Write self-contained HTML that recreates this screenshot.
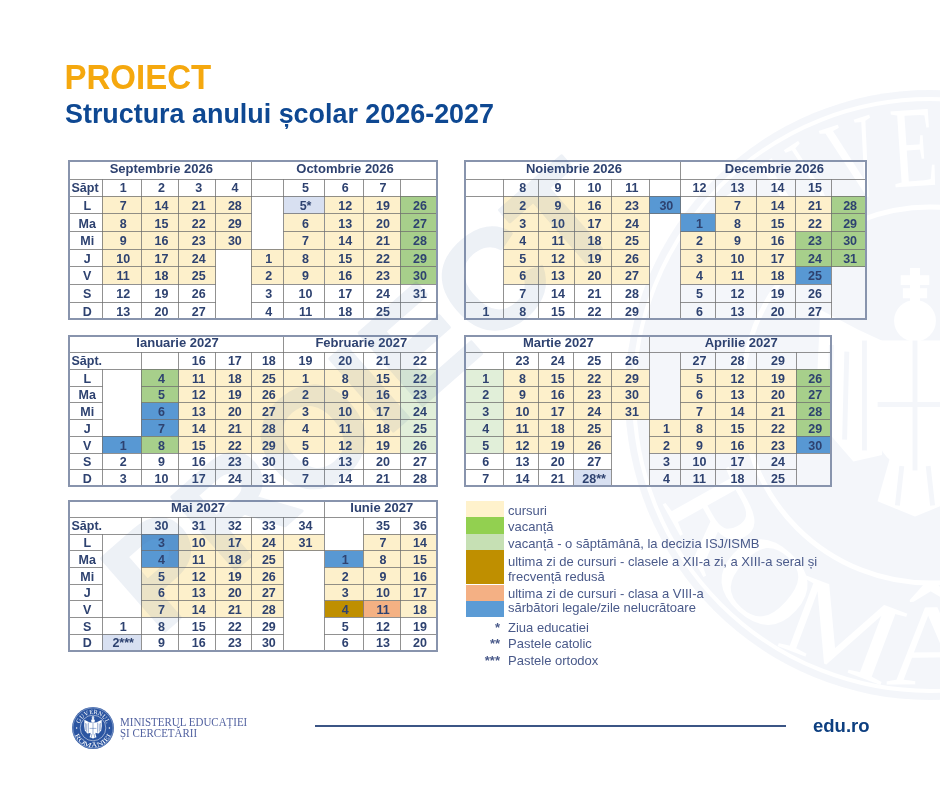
<!DOCTYPE html>
<html lang="ro"><head><meta charset="utf-8"><title>Structura anului școlar 2026-2027</title>
<style>
*{margin:0;padding:0;box-sizing:border-box}
html,body{width:940px;height:788px;overflow:hidden;background:#fff}
body{position:relative;font-family:"Liberation Sans",sans-serif}
.tb{position:absolute}
.tb i,.tb b{position:absolute;display:block}
.bd{border:1px solid rgba(110,110,110,.5)}
.tb b{font-weight:bold;color:#2e4270;text-align:center;white-space:nowrap;font-size:12.5px;padding-left:3px;height:14px;line-height:14px}
.tb b.h{font-size:13px;padding-left:2px;height:15px;line-height:15px}
.tb b.l{text-align:left;padding-left:2px}
.ob{left:-1.5px;top:-1px;right:-1px;bottom:-1px;border:2px solid #8894ad}
#title{position:absolute;left:64.5px;top:58px;font-weight:bold;font-size:33px;color:#f5a80e;line-height:40px;white-space:nowrap;transform:scaleY(1.04);transform-origin:0 28px}
#sub{position:absolute;left:65px;top:96.5px;font-weight:bold;font-size:26.9px;color:#0e4892;line-height:34px;white-space:nowrap}
.sw{position:absolute;left:466px;width:38px;display:block}
.lt{position:absolute;left:508px;font-size:13px;color:#4a5a8a;white-space:nowrap;line-height:15px;height:15px}
.ast{position:absolute;left:470px;width:30px;text-align:right;font-size:13px;font-weight:bold;color:#4a5a8a;line-height:15px;height:15px}
#line{position:absolute;left:315px;top:725px;width:471px;height:1.6px;background:#3b5585}
#edu{position:absolute;left:813px;top:713.5px;font-weight:bold;font-size:18.5px;color:#0d3f80;line-height:24px}
#min{position:absolute;left:120.3px;top:716.7px;font-family:"Liberation Serif",serif;font-size:11.8px;line-height:11.2px;color:#5262a0;transform:scaleX(0.93);transform-origin:0 0;white-space:nowrap}
#wm{position:absolute;left:0;top:0;pointer-events:none}
body>*{filter:blur(0.3px)}
#logo{position:absolute;left:70.7px;top:706.1px;width:44px;height:44px}
#seal{position:absolute;left:0;top:0}
</style></head><body>
<svg id="seal" width="940" height="788" viewBox="0 0 940 788"><g opacity="0.05" transform="translate(930 395)"><circle r="305" fill="#2b55a1"/><circle r="296" fill="none" stroke="#fff" stroke-width="4"/><circle r="188" fill="none" stroke="#fff" stroke-width="5"/><path id="slt" d="M-206.0,-3.6 A206,206 0 0 1 206.0,-3.6" fill="none" transform="rotate(2)"/><path id="slb" d="M-284.0,5.0 A284,284 0 0 0 284.0,5.0" fill="none" transform="rotate(3)"/><text font-family="Liberation Serif" font-size="116" fill="#fff"><textPath href="#slt" startOffset="50%" text-anchor="middle" textLength="415" lengthAdjust="spacingAndGlyphs">GUVERNUL</textPath></text><text font-family="Liberation Serif" font-size="116" fill="#fff"><textPath href="#slb" startOffset="50%" text-anchor="middle" textLength="660" lengthAdjust="spacingAndGlyphs">ROMÂNIEI</textPath></text><g transform="translate(-15 5) scale(11)"><path fill="#fff" d="M-2.6,-5.2 L-5.2,-6.4 L-8.6,-8.2 L-8.9,-2 L-8.2,2.6 L-5.6,5.6 L-3,5 Z M2.6,-5.2 L5.2,-6.4 L8.6,-8.2 L8.9,-2 L8.2,2.6 L5.6,5.6 L3,5 Z"/><path fill="#fff" d="M-3.4,-5.4 L3.4,-5.4 L3.4,3 Q3.4,5.6 0,6.6 Q-3.4,5.6 -3.4,3 Z"/><path fill="#fff" d="M-2.2,5 L2.2,5 L3.4,9.2 L0,10.6 L-3.4,9.2 Z"/><circle cx="0" cy="-7.2" r="1.9" fill="#fff"/><path stroke="#fff" stroke-width="0.9" d="M0,-12 L0,-8.6 M-1.3,-10.9 L1.3,-10.9 M-1.1,-9.7 L1.1,-9.7"/><path stroke="#2b55a1" stroke-width="0.45" fill="none" d="M0,-5.4 L0,6.4 M-3.4,0.4 L3.4,0.4 M-7.6,-5 L-7.8,2 M-6.2,-4.4 L-6.4,3.6 M-4.6,-5.4 L-4.6,4.6 M7.6,-5 L7.8,2 M6.2,-4.4 L6.4,3.6 M4.6,-5.4 L4.6,4.6 M-1.2,6 L-1.6,9.6 M1.2,6 L1.6,9.6"/></g></g></svg>
<div id="title">PROIECT</div>
<div id="sub">Structura anului școlar 2026-2027</div>
<div class="tb" style="left:69.5px;top:161.3px;width:367.5px;height:158.2px">
<i class="bg" style="left:32.5px;top:35.1px;width:39.4px;height:17.6px;background:#fdf0cb"></i>
<i class="bg" style="left:71.9px;top:35.1px;width:37.2px;height:17.6px;background:#fdf0cb"></i>
<i class="bg" style="left:109.1px;top:35.1px;width:37.1px;height:17.6px;background:#fdf0cb"></i>
<i class="bg" style="left:146.2px;top:35.1px;width:35.4px;height:17.6px;background:#fdf0cb"></i>
<i class="bg" style="left:214.1px;top:35.1px;width:40.9px;height:17.6px;background:#d8e0f1"></i>
<i class="bg" style="left:255.0px;top:35.1px;width:38.5px;height:17.6px;background:#fdf0cb"></i>
<i class="bg" style="left:293.5px;top:35.1px;width:37.0px;height:17.6px;background:#fdf0cb"></i>
<i class="bg" style="left:330.5px;top:35.1px;width:37.0px;height:17.6px;background:#a7cf8b"></i>
<i class="bg" style="left:32.5px;top:52.7px;width:39.4px;height:17.7px;background:#fdf0cb"></i>
<i class="bg" style="left:71.9px;top:52.7px;width:37.2px;height:17.7px;background:#fdf0cb"></i>
<i class="bg" style="left:109.1px;top:52.7px;width:37.1px;height:17.7px;background:#fdf0cb"></i>
<i class="bg" style="left:146.2px;top:52.7px;width:35.4px;height:17.7px;background:#fdf0cb"></i>
<i class="bg" style="left:214.1px;top:52.7px;width:40.9px;height:17.7px;background:#fdf0cb"></i>
<i class="bg" style="left:255.0px;top:52.7px;width:38.5px;height:17.7px;background:#fdf0cb"></i>
<i class="bg" style="left:293.5px;top:52.7px;width:37.0px;height:17.7px;background:#fdf0cb"></i>
<i class="bg" style="left:330.5px;top:52.7px;width:37.0px;height:17.7px;background:#a7cf8b"></i>
<i class="bg" style="left:32.5px;top:70.4px;width:39.4px;height:17.6px;background:#fdf0cb"></i>
<i class="bg" style="left:71.9px;top:70.4px;width:37.2px;height:17.6px;background:#fdf0cb"></i>
<i class="bg" style="left:109.1px;top:70.4px;width:37.1px;height:17.6px;background:#fdf0cb"></i>
<i class="bg" style="left:146.2px;top:70.4px;width:35.4px;height:17.6px;background:#fdf0cb"></i>
<i class="bg" style="left:214.1px;top:70.4px;width:40.9px;height:17.6px;background:#fdf0cb"></i>
<i class="bg" style="left:255.0px;top:70.4px;width:38.5px;height:17.6px;background:#fdf0cb"></i>
<i class="bg" style="left:293.5px;top:70.4px;width:37.0px;height:17.6px;background:#fdf0cb"></i>
<i class="bg" style="left:330.5px;top:70.4px;width:37.0px;height:17.6px;background:#a7cf8b"></i>
<i class="bg" style="left:32.5px;top:88.0px;width:39.4px;height:17.5px;background:#fdf0cb"></i>
<i class="bg" style="left:71.9px;top:88.0px;width:37.2px;height:17.5px;background:#fdf0cb"></i>
<i class="bg" style="left:109.1px;top:88.0px;width:37.1px;height:17.5px;background:#fdf0cb"></i>
<i class="bg" style="left:181.6px;top:88.0px;width:32.5px;height:17.5px;background:#fdf0cb"></i>
<i class="bg" style="left:214.1px;top:88.0px;width:40.9px;height:17.5px;background:#fdf0cb"></i>
<i class="bg" style="left:255.0px;top:88.0px;width:38.5px;height:17.5px;background:#fdf0cb"></i>
<i class="bg" style="left:293.5px;top:88.0px;width:37.0px;height:17.5px;background:#fdf0cb"></i>
<i class="bg" style="left:330.5px;top:88.0px;width:37.0px;height:17.5px;background:#a7cf8b"></i>
<i class="bg" style="left:32.5px;top:105.5px;width:39.4px;height:17.6px;background:#fdf0cb"></i>
<i class="bg" style="left:71.9px;top:105.5px;width:37.2px;height:17.6px;background:#fdf0cb"></i>
<i class="bg" style="left:109.1px;top:105.5px;width:37.1px;height:17.6px;background:#fdf0cb"></i>
<i class="bg" style="left:181.6px;top:105.5px;width:32.5px;height:17.6px;background:#fdf0cb"></i>
<i class="bg" style="left:214.1px;top:105.5px;width:40.9px;height:17.6px;background:#fdf0cb"></i>
<i class="bg" style="left:255.0px;top:105.5px;width:38.5px;height:17.6px;background:#fdf0cb"></i>
<i class="bg" style="left:293.5px;top:105.5px;width:37.0px;height:17.6px;background:#fdf0cb"></i>
<i class="bg" style="left:330.5px;top:105.5px;width:37.0px;height:17.6px;background:#a7cf8b"></i>
<i class="bd" style="left:-0.5px;top:-0.5px;width:182.6px;height:19.1px"></i>
<i class="bd" style="left:181.1px;top:-0.5px;width:186.9px;height:19.1px"></i>
<i class="bd" style="left:-0.5px;top:17.6px;width:33.5px;height:18.0px"></i>
<i class="bd" style="left:32.0px;top:17.6px;width:40.4px;height:18.0px"></i>
<i class="bd" style="left:71.4px;top:17.6px;width:38.2px;height:18.0px"></i>
<i class="bd" style="left:108.6px;top:17.6px;width:38.1px;height:18.0px"></i>
<i class="bd" style="left:145.7px;top:17.6px;width:36.4px;height:18.0px"></i>
<i class="bd" style="left:181.1px;top:17.6px;width:33.5px;height:18.0px"></i>
<i class="bd" style="left:213.6px;top:17.6px;width:41.9px;height:18.0px"></i>
<i class="bd" style="left:254.5px;top:17.6px;width:39.5px;height:18.0px"></i>
<i class="bd" style="left:293.0px;top:17.6px;width:38.0px;height:18.0px"></i>
<i class="bd" style="left:330.0px;top:17.6px;width:38.0px;height:18.0px"></i>
<i class="bd" style="left:-0.5px;top:34.6px;width:33.5px;height:18.6px"></i>
<i class="bd" style="left:32.0px;top:34.6px;width:40.4px;height:18.6px"></i>
<i class="bd" style="left:71.4px;top:34.6px;width:38.2px;height:18.6px"></i>
<i class="bd" style="left:108.6px;top:34.6px;width:38.1px;height:18.6px"></i>
<i class="bd" style="left:145.7px;top:34.6px;width:36.4px;height:18.6px"></i>
<i class="bd" style="left:181.1px;top:34.6px;width:33.5px;height:53.9px"></i>
<i class="bd" style="left:213.6px;top:34.6px;width:41.9px;height:18.6px"></i>
<i class="bd" style="left:254.5px;top:34.6px;width:39.5px;height:18.6px"></i>
<i class="bd" style="left:293.0px;top:34.6px;width:38.0px;height:18.6px"></i>
<i class="bd" style="left:330.0px;top:34.6px;width:38.0px;height:18.6px"></i>
<i class="bd" style="left:-0.5px;top:52.2px;width:33.5px;height:18.7px"></i>
<i class="bd" style="left:32.0px;top:52.2px;width:40.4px;height:18.7px"></i>
<i class="bd" style="left:71.4px;top:52.2px;width:38.2px;height:18.7px"></i>
<i class="bd" style="left:108.6px;top:52.2px;width:38.1px;height:18.7px"></i>
<i class="bd" style="left:145.7px;top:52.2px;width:36.4px;height:18.7px"></i>
<i class="bd" style="left:213.6px;top:52.2px;width:41.9px;height:18.7px"></i>
<i class="bd" style="left:254.5px;top:52.2px;width:39.5px;height:18.7px"></i>
<i class="bd" style="left:293.0px;top:52.2px;width:38.0px;height:18.7px"></i>
<i class="bd" style="left:330.0px;top:52.2px;width:38.0px;height:18.7px"></i>
<i class="bd" style="left:-0.5px;top:69.9px;width:33.5px;height:18.6px"></i>
<i class="bd" style="left:32.0px;top:69.9px;width:40.4px;height:18.6px"></i>
<i class="bd" style="left:71.4px;top:69.9px;width:38.2px;height:18.6px"></i>
<i class="bd" style="left:108.6px;top:69.9px;width:38.1px;height:18.6px"></i>
<i class="bd" style="left:145.7px;top:69.9px;width:36.4px;height:18.6px"></i>
<i class="bd" style="left:213.6px;top:69.9px;width:41.9px;height:18.6px"></i>
<i class="bd" style="left:254.5px;top:69.9px;width:39.5px;height:18.6px"></i>
<i class="bd" style="left:293.0px;top:69.9px;width:38.0px;height:18.6px"></i>
<i class="bd" style="left:330.0px;top:69.9px;width:38.0px;height:18.6px"></i>
<i class="bd" style="left:-0.5px;top:87.5px;width:33.5px;height:18.5px"></i>
<i class="bd" style="left:32.0px;top:87.5px;width:40.4px;height:18.5px"></i>
<i class="bd" style="left:71.4px;top:87.5px;width:38.2px;height:18.5px"></i>
<i class="bd" style="left:108.6px;top:87.5px;width:38.1px;height:18.5px"></i>
<i class="bd" style="left:145.7px;top:87.5px;width:36.4px;height:71.2px"></i>
<i class="bd" style="left:181.1px;top:87.5px;width:33.5px;height:18.5px"></i>
<i class="bd" style="left:213.6px;top:87.5px;width:41.9px;height:18.5px"></i>
<i class="bd" style="left:254.5px;top:87.5px;width:39.5px;height:18.5px"></i>
<i class="bd" style="left:293.0px;top:87.5px;width:38.0px;height:18.5px"></i>
<i class="bd" style="left:330.0px;top:87.5px;width:38.0px;height:18.5px"></i>
<i class="bd" style="left:-0.5px;top:105.0px;width:33.5px;height:18.6px"></i>
<i class="bd" style="left:32.0px;top:105.0px;width:40.4px;height:18.6px"></i>
<i class="bd" style="left:71.4px;top:105.0px;width:38.2px;height:18.6px"></i>
<i class="bd" style="left:108.6px;top:105.0px;width:38.1px;height:18.6px"></i>
<i class="bd" style="left:181.1px;top:105.0px;width:33.5px;height:18.6px"></i>
<i class="bd" style="left:213.6px;top:105.0px;width:41.9px;height:18.6px"></i>
<i class="bd" style="left:254.5px;top:105.0px;width:39.5px;height:18.6px"></i>
<i class="bd" style="left:293.0px;top:105.0px;width:38.0px;height:18.6px"></i>
<i class="bd" style="left:330.0px;top:105.0px;width:38.0px;height:18.6px"></i>
<i class="bd" style="left:-0.5px;top:122.6px;width:33.5px;height:18.7px"></i>
<i class="bd" style="left:32.0px;top:122.6px;width:40.4px;height:18.7px"></i>
<i class="bd" style="left:71.4px;top:122.6px;width:38.2px;height:18.7px"></i>
<i class="bd" style="left:108.6px;top:122.6px;width:38.1px;height:18.7px"></i>
<i class="bd" style="left:181.1px;top:122.6px;width:33.5px;height:18.7px"></i>
<i class="bd" style="left:213.6px;top:122.6px;width:41.9px;height:18.7px"></i>
<i class="bd" style="left:254.5px;top:122.6px;width:39.5px;height:18.7px"></i>
<i class="bd" style="left:293.0px;top:122.6px;width:38.0px;height:18.7px"></i>
<i class="bd" style="left:330.0px;top:122.6px;width:38.0px;height:18.7px"></i>
<i class="bd" style="left:-0.5px;top:140.3px;width:33.5px;height:18.4px"></i>
<i class="bd" style="left:32.0px;top:140.3px;width:40.4px;height:18.4px"></i>
<i class="bd" style="left:71.4px;top:140.3px;width:38.2px;height:18.4px"></i>
<i class="bd" style="left:108.6px;top:140.3px;width:38.1px;height:18.4px"></i>
<i class="bd" style="left:181.1px;top:140.3px;width:33.5px;height:18.4px"></i>
<i class="bd" style="left:213.6px;top:140.3px;width:41.9px;height:18.4px"></i>
<i class="bd" style="left:254.5px;top:140.3px;width:39.5px;height:18.4px"></i>
<i class="bd" style="left:293.0px;top:140.3px;width:38.0px;height:18.4px"></i>
<i class="bd" style="left:330.0px;top:140.3px;width:38.0px;height:18.4px"></i>
<b class="h" style="left:0.0px;top:-0.3px;width:181.6px">Septembrie 2026</b>
<b class="h" style="left:181.6px;top:-0.3px;width:185.9px">Octombrie 2026</b>
<b class="t l" style="left:0.0px;top:19.7px;width:32.5px">Săpt</b>
<b class="t" style="left:32.5px;top:19.7px;width:39.4px">1</b>
<b class="t" style="left:71.9px;top:19.7px;width:37.2px">2</b>
<b class="t" style="left:109.1px;top:19.7px;width:37.1px">3</b>
<b class="t" style="left:146.2px;top:19.7px;width:35.4px">4</b>
<b class="t" style="left:214.1px;top:19.7px;width:40.9px">5</b>
<b class="t" style="left:255.0px;top:19.7px;width:38.5px">6</b>
<b class="t" style="left:293.5px;top:19.7px;width:37.0px">7</b>
<b class="t" style="left:0.0px;top:37.7px;width:32.5px">L</b>
<b class="t" style="left:32.5px;top:37.7px;width:39.4px">7</b>
<b class="t" style="left:71.9px;top:37.7px;width:37.2px">14</b>
<b class="t" style="left:109.1px;top:37.7px;width:37.1px">21</b>
<b class="t" style="left:146.2px;top:37.7px;width:35.4px">28</b>
<b class="t" style="left:214.1px;top:37.7px;width:40.9px">5*</b>
<b class="t" style="left:255.0px;top:37.7px;width:38.5px">12</b>
<b class="t" style="left:293.5px;top:37.7px;width:37.0px">19</b>
<b class="t" style="left:330.5px;top:37.7px;width:37.0px">26</b>
<b class="t" style="left:0.0px;top:55.7px;width:32.5px">Ma</b>
<b class="t" style="left:32.5px;top:55.7px;width:39.4px">8</b>
<b class="t" style="left:71.9px;top:55.7px;width:37.2px">15</b>
<b class="t" style="left:109.1px;top:55.7px;width:37.1px">22</b>
<b class="t" style="left:146.2px;top:55.7px;width:35.4px">29</b>
<b class="t" style="left:214.1px;top:55.7px;width:40.9px">6</b>
<b class="t" style="left:255.0px;top:55.7px;width:38.5px">13</b>
<b class="t" style="left:293.5px;top:55.7px;width:37.0px">20</b>
<b class="t" style="left:330.5px;top:55.7px;width:37.0px">27</b>
<b class="t" style="left:0.0px;top:72.7px;width:32.5px">Mi</b>
<b class="t" style="left:32.5px;top:72.7px;width:39.4px">9</b>
<b class="t" style="left:71.9px;top:72.7px;width:37.2px">16</b>
<b class="t" style="left:109.1px;top:72.7px;width:37.1px">23</b>
<b class="t" style="left:146.2px;top:72.7px;width:35.4px">30</b>
<b class="t" style="left:214.1px;top:72.7px;width:40.9px">7</b>
<b class="t" style="left:255.0px;top:72.7px;width:38.5px">14</b>
<b class="t" style="left:293.5px;top:72.7px;width:37.0px">21</b>
<b class="t" style="left:330.5px;top:72.7px;width:37.0px">28</b>
<b class="t" style="left:0.0px;top:90.7px;width:32.5px">J</b>
<b class="t" style="left:32.5px;top:90.7px;width:39.4px">10</b>
<b class="t" style="left:71.9px;top:90.7px;width:37.2px">17</b>
<b class="t" style="left:109.1px;top:90.7px;width:37.1px">24</b>
<b class="t" style="left:181.6px;top:90.7px;width:32.5px">1</b>
<b class="t" style="left:214.1px;top:90.7px;width:40.9px">8</b>
<b class="t" style="left:255.0px;top:90.7px;width:38.5px">15</b>
<b class="t" style="left:293.5px;top:90.7px;width:37.0px">22</b>
<b class="t" style="left:330.5px;top:90.7px;width:37.0px">29</b>
<b class="t" style="left:0.0px;top:107.7px;width:32.5px">V</b>
<b class="t" style="left:32.5px;top:107.7px;width:39.4px">11</b>
<b class="t" style="left:71.9px;top:107.7px;width:37.2px">18</b>
<b class="t" style="left:109.1px;top:107.7px;width:37.1px">25</b>
<b class="t" style="left:181.6px;top:107.7px;width:32.5px">2</b>
<b class="t" style="left:214.1px;top:107.7px;width:40.9px">9</b>
<b class="t" style="left:255.0px;top:107.7px;width:38.5px">16</b>
<b class="t" style="left:293.5px;top:107.7px;width:37.0px">23</b>
<b class="t" style="left:330.5px;top:107.7px;width:37.0px">30</b>
<b class="t" style="left:0.0px;top:125.7px;width:32.5px">S</b>
<b class="t" style="left:32.5px;top:125.7px;width:39.4px">12</b>
<b class="t" style="left:71.9px;top:125.7px;width:37.2px">19</b>
<b class="t" style="left:109.1px;top:125.7px;width:37.1px">26</b>
<b class="t" style="left:181.6px;top:125.7px;width:32.5px">3</b>
<b class="t" style="left:214.1px;top:125.7px;width:40.9px">10</b>
<b class="t" style="left:255.0px;top:125.7px;width:38.5px">17</b>
<b class="t" style="left:293.5px;top:125.7px;width:37.0px">24</b>
<b class="t" style="left:330.5px;top:125.7px;width:37.0px">31</b>
<b class="t" style="left:0.0px;top:143.7px;width:32.5px">D</b>
<b class="t" style="left:32.5px;top:143.7px;width:39.4px">13</b>
<b class="t" style="left:71.9px;top:143.7px;width:37.2px">20</b>
<b class="t" style="left:109.1px;top:143.7px;width:37.1px">27</b>
<b class="t" style="left:181.6px;top:143.7px;width:32.5px">4</b>
<b class="t" style="left:214.1px;top:143.7px;width:40.9px">11</b>
<b class="t" style="left:255.0px;top:143.7px;width:38.5px">18</b>
<b class="t" style="left:293.5px;top:143.7px;width:37.0px">25</b>
<i class="ob"></i></div>
<div class="tb" style="left:465.4px;top:161.3px;width:400.8px;height:158.2px">
<i class="bg" style="left:38.2px;top:35.1px;width:35.1px;height:17.6px;background:#fdf0cb"></i>
<i class="bg" style="left:73.3px;top:35.1px;width:35.6px;height:17.6px;background:#fdf0cb"></i>
<i class="bg" style="left:108.9px;top:35.1px;width:37.4px;height:17.6px;background:#fdf0cb"></i>
<i class="bg" style="left:146.3px;top:35.1px;width:37.5px;height:17.6px;background:#fdf0cb"></i>
<i class="bg" style="left:183.8px;top:35.1px;width:31.4px;height:17.6px;background:#5898d3"></i>
<i class="bg" style="left:250.1px;top:35.1px;width:41.0px;height:17.6px;background:#fdf0cb"></i>
<i class="bg" style="left:291.1px;top:35.1px;width:39.3px;height:17.6px;background:#fdf0cb"></i>
<i class="bg" style="left:330.4px;top:35.1px;width:35.3px;height:17.6px;background:#fdf0cb"></i>
<i class="bg" style="left:365.7px;top:35.1px;width:35.1px;height:17.6px;background:#a7cf8b"></i>
<i class="bg" style="left:38.2px;top:52.7px;width:35.1px;height:17.7px;background:#fdf0cb"></i>
<i class="bg" style="left:73.3px;top:52.7px;width:35.6px;height:17.7px;background:#fdf0cb"></i>
<i class="bg" style="left:108.9px;top:52.7px;width:37.4px;height:17.7px;background:#fdf0cb"></i>
<i class="bg" style="left:146.3px;top:52.7px;width:37.5px;height:17.7px;background:#fdf0cb"></i>
<i class="bg" style="left:215.2px;top:52.7px;width:34.9px;height:17.7px;background:#5898d3"></i>
<i class="bg" style="left:250.1px;top:52.7px;width:41.0px;height:17.7px;background:#fdf0cb"></i>
<i class="bg" style="left:291.1px;top:52.7px;width:39.3px;height:17.7px;background:#fdf0cb"></i>
<i class="bg" style="left:330.4px;top:52.7px;width:35.3px;height:17.7px;background:#fdf0cb"></i>
<i class="bg" style="left:365.7px;top:52.7px;width:35.1px;height:17.7px;background:#a7cf8b"></i>
<i class="bg" style="left:38.2px;top:70.4px;width:35.1px;height:17.6px;background:#fdf0cb"></i>
<i class="bg" style="left:73.3px;top:70.4px;width:35.6px;height:17.6px;background:#fdf0cb"></i>
<i class="bg" style="left:108.9px;top:70.4px;width:37.4px;height:17.6px;background:#fdf0cb"></i>
<i class="bg" style="left:146.3px;top:70.4px;width:37.5px;height:17.6px;background:#fdf0cb"></i>
<i class="bg" style="left:215.2px;top:70.4px;width:34.9px;height:17.6px;background:#fdf0cb"></i>
<i class="bg" style="left:250.1px;top:70.4px;width:41.0px;height:17.6px;background:#fdf0cb"></i>
<i class="bg" style="left:291.1px;top:70.4px;width:39.3px;height:17.6px;background:#fdf0cb"></i>
<i class="bg" style="left:330.4px;top:70.4px;width:35.3px;height:17.6px;background:#a7cf8b"></i>
<i class="bg" style="left:365.7px;top:70.4px;width:35.1px;height:17.6px;background:#a7cf8b"></i>
<i class="bg" style="left:38.2px;top:88.0px;width:35.1px;height:17.5px;background:#fdf0cb"></i>
<i class="bg" style="left:73.3px;top:88.0px;width:35.6px;height:17.5px;background:#fdf0cb"></i>
<i class="bg" style="left:108.9px;top:88.0px;width:37.4px;height:17.5px;background:#fdf0cb"></i>
<i class="bg" style="left:146.3px;top:88.0px;width:37.5px;height:17.5px;background:#fdf0cb"></i>
<i class="bg" style="left:215.2px;top:88.0px;width:34.9px;height:17.5px;background:#fdf0cb"></i>
<i class="bg" style="left:250.1px;top:88.0px;width:41.0px;height:17.5px;background:#fdf0cb"></i>
<i class="bg" style="left:291.1px;top:88.0px;width:39.3px;height:17.5px;background:#fdf0cb"></i>
<i class="bg" style="left:330.4px;top:88.0px;width:35.3px;height:17.5px;background:#a7cf8b"></i>
<i class="bg" style="left:365.7px;top:88.0px;width:35.1px;height:17.5px;background:#a7cf8b"></i>
<i class="bg" style="left:38.2px;top:105.5px;width:35.1px;height:17.6px;background:#fdf0cb"></i>
<i class="bg" style="left:73.3px;top:105.5px;width:35.6px;height:17.6px;background:#fdf0cb"></i>
<i class="bg" style="left:108.9px;top:105.5px;width:37.4px;height:17.6px;background:#fdf0cb"></i>
<i class="bg" style="left:146.3px;top:105.5px;width:37.5px;height:17.6px;background:#fdf0cb"></i>
<i class="bg" style="left:215.2px;top:105.5px;width:34.9px;height:17.6px;background:#fdf0cb"></i>
<i class="bg" style="left:250.1px;top:105.5px;width:41.0px;height:17.6px;background:#fdf0cb"></i>
<i class="bg" style="left:291.1px;top:105.5px;width:39.3px;height:17.6px;background:#fdf0cb"></i>
<i class="bg" style="left:330.4px;top:105.5px;width:35.3px;height:17.6px;background:#5898d3"></i>
<i class="bd" style="left:-0.5px;top:-0.5px;width:216.2px;height:19.1px"></i>
<i class="bd" style="left:214.7px;top:-0.5px;width:186.6px;height:19.1px"></i>
<i class="bd" style="left:-0.5px;top:17.6px;width:39.2px;height:18.0px"></i>
<i class="bd" style="left:37.7px;top:17.6px;width:36.1px;height:18.0px"></i>
<i class="bd" style="left:72.8px;top:17.6px;width:36.6px;height:18.0px"></i>
<i class="bd" style="left:108.4px;top:17.6px;width:38.4px;height:18.0px"></i>
<i class="bd" style="left:145.8px;top:17.6px;width:38.5px;height:18.0px"></i>
<i class="bd" style="left:183.3px;top:17.6px;width:32.4px;height:18.0px"></i>
<i class="bd" style="left:214.7px;top:17.6px;width:35.9px;height:18.0px"></i>
<i class="bd" style="left:249.6px;top:17.6px;width:42.0px;height:18.0px"></i>
<i class="bd" style="left:290.6px;top:17.6px;width:40.3px;height:18.0px"></i>
<i class="bd" style="left:329.9px;top:17.6px;width:36.3px;height:18.0px"></i>
<i class="bd" style="left:365.2px;top:17.6px;width:36.1px;height:18.0px"></i>
<i class="bd" style="left:-0.5px;top:34.6px;width:39.2px;height:106.7px"></i>
<i class="bd" style="left:37.7px;top:34.6px;width:36.1px;height:18.6px"></i>
<i class="bd" style="left:72.8px;top:34.6px;width:36.6px;height:18.6px"></i>
<i class="bd" style="left:108.4px;top:34.6px;width:38.4px;height:18.6px"></i>
<i class="bd" style="left:145.8px;top:34.6px;width:38.5px;height:18.6px"></i>
<i class="bd" style="left:183.3px;top:34.6px;width:32.4px;height:18.6px"></i>
<i class="bd" style="left:214.7px;top:34.6px;width:35.9px;height:18.6px"></i>
<i class="bd" style="left:249.6px;top:34.6px;width:42.0px;height:18.6px"></i>
<i class="bd" style="left:290.6px;top:34.6px;width:40.3px;height:18.6px"></i>
<i class="bd" style="left:329.9px;top:34.6px;width:36.3px;height:18.6px"></i>
<i class="bd" style="left:365.2px;top:34.6px;width:36.1px;height:18.6px"></i>
<i class="bd" style="left:37.7px;top:52.2px;width:36.1px;height:18.7px"></i>
<i class="bd" style="left:72.8px;top:52.2px;width:36.6px;height:18.7px"></i>
<i class="bd" style="left:108.4px;top:52.2px;width:38.4px;height:18.7px"></i>
<i class="bd" style="left:145.8px;top:52.2px;width:38.5px;height:18.7px"></i>
<i class="bd" style="left:183.3px;top:52.2px;width:32.4px;height:106.5px"></i>
<i class="bd" style="left:214.7px;top:52.2px;width:35.9px;height:18.7px"></i>
<i class="bd" style="left:249.6px;top:52.2px;width:42.0px;height:18.7px"></i>
<i class="bd" style="left:290.6px;top:52.2px;width:40.3px;height:18.7px"></i>
<i class="bd" style="left:329.9px;top:52.2px;width:36.3px;height:18.7px"></i>
<i class="bd" style="left:365.2px;top:52.2px;width:36.1px;height:18.7px"></i>
<i class="bd" style="left:37.7px;top:69.9px;width:36.1px;height:18.6px"></i>
<i class="bd" style="left:72.8px;top:69.9px;width:36.6px;height:18.6px"></i>
<i class="bd" style="left:108.4px;top:69.9px;width:38.4px;height:18.6px"></i>
<i class="bd" style="left:145.8px;top:69.9px;width:38.5px;height:18.6px"></i>
<i class="bd" style="left:214.7px;top:69.9px;width:35.9px;height:18.6px"></i>
<i class="bd" style="left:249.6px;top:69.9px;width:42.0px;height:18.6px"></i>
<i class="bd" style="left:290.6px;top:69.9px;width:40.3px;height:18.6px"></i>
<i class="bd" style="left:329.9px;top:69.9px;width:36.3px;height:18.6px"></i>
<i class="bd" style="left:365.2px;top:69.9px;width:36.1px;height:18.6px"></i>
<i class="bd" style="left:37.7px;top:87.5px;width:36.1px;height:18.5px"></i>
<i class="bd" style="left:72.8px;top:87.5px;width:36.6px;height:18.5px"></i>
<i class="bd" style="left:108.4px;top:87.5px;width:38.4px;height:18.5px"></i>
<i class="bd" style="left:145.8px;top:87.5px;width:38.5px;height:18.5px"></i>
<i class="bd" style="left:214.7px;top:87.5px;width:35.9px;height:18.5px"></i>
<i class="bd" style="left:249.6px;top:87.5px;width:42.0px;height:18.5px"></i>
<i class="bd" style="left:290.6px;top:87.5px;width:40.3px;height:18.5px"></i>
<i class="bd" style="left:329.9px;top:87.5px;width:36.3px;height:18.5px"></i>
<i class="bd" style="left:365.2px;top:87.5px;width:36.1px;height:18.5px"></i>
<i class="bd" style="left:37.7px;top:105.0px;width:36.1px;height:18.6px"></i>
<i class="bd" style="left:72.8px;top:105.0px;width:36.6px;height:18.6px"></i>
<i class="bd" style="left:108.4px;top:105.0px;width:38.4px;height:18.6px"></i>
<i class="bd" style="left:145.8px;top:105.0px;width:38.5px;height:18.6px"></i>
<i class="bd" style="left:214.7px;top:105.0px;width:35.9px;height:18.6px"></i>
<i class="bd" style="left:249.6px;top:105.0px;width:42.0px;height:18.6px"></i>
<i class="bd" style="left:290.6px;top:105.0px;width:40.3px;height:18.6px"></i>
<i class="bd" style="left:329.9px;top:105.0px;width:36.3px;height:18.6px"></i>
<i class="bd" style="left:365.2px;top:105.0px;width:36.1px;height:53.7px"></i>
<i class="bd" style="left:37.7px;top:122.6px;width:36.1px;height:18.7px"></i>
<i class="bd" style="left:72.8px;top:122.6px;width:36.6px;height:18.7px"></i>
<i class="bd" style="left:108.4px;top:122.6px;width:38.4px;height:18.7px"></i>
<i class="bd" style="left:145.8px;top:122.6px;width:38.5px;height:18.7px"></i>
<i class="bd" style="left:214.7px;top:122.6px;width:35.9px;height:18.7px"></i>
<i class="bd" style="left:249.6px;top:122.6px;width:42.0px;height:18.7px"></i>
<i class="bd" style="left:290.6px;top:122.6px;width:40.3px;height:18.7px"></i>
<i class="bd" style="left:329.9px;top:122.6px;width:36.3px;height:18.7px"></i>
<i class="bd" style="left:-0.5px;top:140.3px;width:39.2px;height:18.4px"></i>
<i class="bd" style="left:37.7px;top:140.3px;width:36.1px;height:18.4px"></i>
<i class="bd" style="left:72.8px;top:140.3px;width:36.6px;height:18.4px"></i>
<i class="bd" style="left:108.4px;top:140.3px;width:38.4px;height:18.4px"></i>
<i class="bd" style="left:145.8px;top:140.3px;width:38.5px;height:18.4px"></i>
<i class="bd" style="left:214.7px;top:140.3px;width:35.9px;height:18.4px"></i>
<i class="bd" style="left:249.6px;top:140.3px;width:42.0px;height:18.4px"></i>
<i class="bd" style="left:290.6px;top:140.3px;width:40.3px;height:18.4px"></i>
<i class="bd" style="left:329.9px;top:140.3px;width:36.3px;height:18.4px"></i>
<b class="h" style="left:0.0px;top:-0.3px;width:215.2px">Noiembrie 2026</b>
<b class="h" style="left:215.2px;top:-0.3px;width:185.6px">Decembrie 2026</b>
<b class="t" style="left:38.2px;top:19.7px;width:35.1px">8</b>
<b class="t" style="left:73.3px;top:19.7px;width:35.6px">9</b>
<b class="t" style="left:108.9px;top:19.7px;width:37.4px">10</b>
<b class="t" style="left:146.3px;top:19.7px;width:37.5px">11</b>
<b class="t" style="left:215.2px;top:19.7px;width:34.9px">12</b>
<b class="t" style="left:250.1px;top:19.7px;width:41.0px">13</b>
<b class="t" style="left:291.1px;top:19.7px;width:39.3px">14</b>
<b class="t" style="left:330.4px;top:19.7px;width:35.3px">15</b>
<b class="t" style="left:38.2px;top:37.7px;width:35.1px">2</b>
<b class="t" style="left:73.3px;top:37.7px;width:35.6px">9</b>
<b class="t" style="left:108.9px;top:37.7px;width:37.4px">16</b>
<b class="t" style="left:146.3px;top:37.7px;width:37.5px">23</b>
<b class="t" style="left:183.8px;top:37.7px;width:31.4px">30</b>
<b class="t" style="left:250.1px;top:37.7px;width:41.0px">7</b>
<b class="t" style="left:291.1px;top:37.7px;width:39.3px">14</b>
<b class="t" style="left:330.4px;top:37.7px;width:35.3px">21</b>
<b class="t" style="left:365.7px;top:37.7px;width:35.1px">28</b>
<b class="t" style="left:38.2px;top:55.7px;width:35.1px">3</b>
<b class="t" style="left:73.3px;top:55.7px;width:35.6px">10</b>
<b class="t" style="left:108.9px;top:55.7px;width:37.4px">17</b>
<b class="t" style="left:146.3px;top:55.7px;width:37.5px">24</b>
<b class="t" style="left:215.2px;top:55.7px;width:34.9px">1</b>
<b class="t" style="left:250.1px;top:55.7px;width:41.0px">8</b>
<b class="t" style="left:291.1px;top:55.7px;width:39.3px">15</b>
<b class="t" style="left:330.4px;top:55.7px;width:35.3px">22</b>
<b class="t" style="left:365.7px;top:55.7px;width:35.1px">29</b>
<b class="t" style="left:38.2px;top:72.7px;width:35.1px">4</b>
<b class="t" style="left:73.3px;top:72.7px;width:35.6px">11</b>
<b class="t" style="left:108.9px;top:72.7px;width:37.4px">18</b>
<b class="t" style="left:146.3px;top:72.7px;width:37.5px">25</b>
<b class="t" style="left:215.2px;top:72.7px;width:34.9px">2</b>
<b class="t" style="left:250.1px;top:72.7px;width:41.0px">9</b>
<b class="t" style="left:291.1px;top:72.7px;width:39.3px">16</b>
<b class="t" style="left:330.4px;top:72.7px;width:35.3px">23</b>
<b class="t" style="left:365.7px;top:72.7px;width:35.1px">30</b>
<b class="t" style="left:38.2px;top:90.7px;width:35.1px">5</b>
<b class="t" style="left:73.3px;top:90.7px;width:35.6px">12</b>
<b class="t" style="left:108.9px;top:90.7px;width:37.4px">19</b>
<b class="t" style="left:146.3px;top:90.7px;width:37.5px">26</b>
<b class="t" style="left:215.2px;top:90.7px;width:34.9px">3</b>
<b class="t" style="left:250.1px;top:90.7px;width:41.0px">10</b>
<b class="t" style="left:291.1px;top:90.7px;width:39.3px">17</b>
<b class="t" style="left:330.4px;top:90.7px;width:35.3px">24</b>
<b class="t" style="left:365.7px;top:90.7px;width:35.1px">31</b>
<b class="t" style="left:38.2px;top:107.7px;width:35.1px">6</b>
<b class="t" style="left:73.3px;top:107.7px;width:35.6px">13</b>
<b class="t" style="left:108.9px;top:107.7px;width:37.4px">20</b>
<b class="t" style="left:146.3px;top:107.7px;width:37.5px">27</b>
<b class="t" style="left:215.2px;top:107.7px;width:34.9px">4</b>
<b class="t" style="left:250.1px;top:107.7px;width:41.0px">11</b>
<b class="t" style="left:291.1px;top:107.7px;width:39.3px">18</b>
<b class="t" style="left:330.4px;top:107.7px;width:35.3px">25</b>
<b class="t" style="left:38.2px;top:125.7px;width:35.1px">7</b>
<b class="t" style="left:73.3px;top:125.7px;width:35.6px">14</b>
<b class="t" style="left:108.9px;top:125.7px;width:37.4px">21</b>
<b class="t" style="left:146.3px;top:125.7px;width:37.5px">28</b>
<b class="t" style="left:215.2px;top:125.7px;width:34.9px">5</b>
<b class="t" style="left:250.1px;top:125.7px;width:41.0px">12</b>
<b class="t" style="left:291.1px;top:125.7px;width:39.3px">19</b>
<b class="t" style="left:330.4px;top:125.7px;width:35.3px">26</b>
<b class="t" style="left:0.0px;top:143.7px;width:38.2px">1</b>
<b class="t" style="left:38.2px;top:143.7px;width:35.1px">8</b>
<b class="t" style="left:73.3px;top:143.7px;width:35.6px">15</b>
<b class="t" style="left:108.9px;top:143.7px;width:37.4px">22</b>
<b class="t" style="left:146.3px;top:143.7px;width:37.5px">29</b>
<b class="t" style="left:215.2px;top:143.7px;width:34.9px">6</b>
<b class="t" style="left:250.1px;top:143.7px;width:41.0px">13</b>
<b class="t" style="left:291.1px;top:143.7px;width:39.3px">20</b>
<b class="t" style="left:330.4px;top:143.7px;width:35.3px">27</b>
<i class="ob"></i></div>
<div class="tb" style="left:69.5px;top:336.4px;width:367.5px;height:149.8px">
<i class="bg" style="left:71.9px;top:33.0px;width:37.2px;height:16.7px;background:#a7cf8b"></i>
<i class="bg" style="left:109.1px;top:33.0px;width:37.1px;height:16.7px;background:#fdf0cb"></i>
<i class="bg" style="left:146.2px;top:33.0px;width:35.4px;height:16.7px;background:#fdf0cb"></i>
<i class="bg" style="left:181.6px;top:33.0px;width:32.5px;height:16.7px;background:#fdf0cb"></i>
<i class="bg" style="left:214.1px;top:33.0px;width:40.9px;height:16.7px;background:#fdf0cb"></i>
<i class="bg" style="left:255.0px;top:33.0px;width:38.5px;height:16.7px;background:#fdf0cb"></i>
<i class="bg" style="left:293.5px;top:33.0px;width:37.0px;height:16.7px;background:#fdf0cb"></i>
<i class="bg" style="left:330.5px;top:33.0px;width:37.0px;height:16.7px;background:#e1efd9"></i>
<i class="bg" style="left:71.9px;top:49.7px;width:37.2px;height:16.8px;background:#a7cf8b"></i>
<i class="bg" style="left:109.1px;top:49.7px;width:37.1px;height:16.8px;background:#fdf0cb"></i>
<i class="bg" style="left:146.2px;top:49.7px;width:35.4px;height:16.8px;background:#fdf0cb"></i>
<i class="bg" style="left:181.6px;top:49.7px;width:32.5px;height:16.8px;background:#fdf0cb"></i>
<i class="bg" style="left:214.1px;top:49.7px;width:40.9px;height:16.8px;background:#fdf0cb"></i>
<i class="bg" style="left:255.0px;top:49.7px;width:38.5px;height:16.8px;background:#fdf0cb"></i>
<i class="bg" style="left:293.5px;top:49.7px;width:37.0px;height:16.8px;background:#fdf0cb"></i>
<i class="bg" style="left:330.5px;top:49.7px;width:37.0px;height:16.8px;background:#e1efd9"></i>
<i class="bg" style="left:71.9px;top:66.5px;width:37.2px;height:16.7px;background:#5898d3"></i>
<i class="bg" style="left:109.1px;top:66.5px;width:37.1px;height:16.7px;background:#fdf0cb"></i>
<i class="bg" style="left:146.2px;top:66.5px;width:35.4px;height:16.7px;background:#fdf0cb"></i>
<i class="bg" style="left:181.6px;top:66.5px;width:32.5px;height:16.7px;background:#fdf0cb"></i>
<i class="bg" style="left:214.1px;top:66.5px;width:40.9px;height:16.7px;background:#fdf0cb"></i>
<i class="bg" style="left:255.0px;top:66.5px;width:38.5px;height:16.7px;background:#fdf0cb"></i>
<i class="bg" style="left:293.5px;top:66.5px;width:37.0px;height:16.7px;background:#fdf0cb"></i>
<i class="bg" style="left:330.5px;top:66.5px;width:37.0px;height:16.7px;background:#e1efd9"></i>
<i class="bg" style="left:71.9px;top:83.2px;width:37.2px;height:16.8px;background:#5898d3"></i>
<i class="bg" style="left:109.1px;top:83.2px;width:37.1px;height:16.8px;background:#fdf0cb"></i>
<i class="bg" style="left:146.2px;top:83.2px;width:35.4px;height:16.8px;background:#fdf0cb"></i>
<i class="bg" style="left:181.6px;top:83.2px;width:32.5px;height:16.8px;background:#fdf0cb"></i>
<i class="bg" style="left:214.1px;top:83.2px;width:40.9px;height:16.8px;background:#fdf0cb"></i>
<i class="bg" style="left:255.0px;top:83.2px;width:38.5px;height:16.8px;background:#fdf0cb"></i>
<i class="bg" style="left:293.5px;top:83.2px;width:37.0px;height:16.8px;background:#fdf0cb"></i>
<i class="bg" style="left:330.5px;top:83.2px;width:37.0px;height:16.8px;background:#e1efd9"></i>
<i class="bg" style="left:32.5px;top:100.0px;width:39.4px;height:16.7px;background:#5898d3"></i>
<i class="bg" style="left:71.9px;top:100.0px;width:37.2px;height:16.7px;background:#a7cf8b"></i>
<i class="bg" style="left:109.1px;top:100.0px;width:37.1px;height:16.7px;background:#fdf0cb"></i>
<i class="bg" style="left:146.2px;top:100.0px;width:35.4px;height:16.7px;background:#fdf0cb"></i>
<i class="bg" style="left:181.6px;top:100.0px;width:32.5px;height:16.7px;background:#fdf0cb"></i>
<i class="bg" style="left:214.1px;top:100.0px;width:40.9px;height:16.7px;background:#fdf0cb"></i>
<i class="bg" style="left:255.0px;top:100.0px;width:38.5px;height:16.7px;background:#fdf0cb"></i>
<i class="bg" style="left:293.5px;top:100.0px;width:37.0px;height:16.7px;background:#fdf0cb"></i>
<i class="bg" style="left:330.5px;top:100.0px;width:37.0px;height:16.7px;background:#e1efd9"></i>
<i class="bd" style="left:-0.5px;top:-0.5px;width:215.1px;height:17.2px"></i>
<i class="bd" style="left:213.6px;top:-0.5px;width:154.4px;height:17.2px"></i>
<i class="bd" style="left:-0.5px;top:15.7px;width:72.9px;height:17.8px"></i>
<i class="bd" style="left:71.4px;top:15.7px;width:38.2px;height:17.8px"></i>
<i class="bd" style="left:108.6px;top:15.7px;width:38.1px;height:17.8px"></i>
<i class="bd" style="left:145.7px;top:15.7px;width:36.4px;height:17.8px"></i>
<i class="bd" style="left:181.1px;top:15.7px;width:33.5px;height:17.8px"></i>
<i class="bd" style="left:213.6px;top:15.7px;width:41.9px;height:17.8px"></i>
<i class="bd" style="left:254.5px;top:15.7px;width:39.5px;height:17.8px"></i>
<i class="bd" style="left:293.0px;top:15.7px;width:38.0px;height:17.8px"></i>
<i class="bd" style="left:330.0px;top:15.7px;width:38.0px;height:17.8px"></i>
<i class="bd" style="left:-0.5px;top:32.5px;width:33.5px;height:17.7px"></i>
<i class="bd" style="left:32.0px;top:32.5px;width:40.4px;height:68.0px"></i>
<i class="bd" style="left:71.4px;top:32.5px;width:38.2px;height:17.7px"></i>
<i class="bd" style="left:108.6px;top:32.5px;width:38.1px;height:17.7px"></i>
<i class="bd" style="left:145.7px;top:32.5px;width:36.4px;height:17.7px"></i>
<i class="bd" style="left:181.1px;top:32.5px;width:33.5px;height:17.7px"></i>
<i class="bd" style="left:213.6px;top:32.5px;width:41.9px;height:17.7px"></i>
<i class="bd" style="left:254.5px;top:32.5px;width:39.5px;height:17.7px"></i>
<i class="bd" style="left:293.0px;top:32.5px;width:38.0px;height:17.7px"></i>
<i class="bd" style="left:330.0px;top:32.5px;width:38.0px;height:17.7px"></i>
<i class="bd" style="left:-0.5px;top:49.2px;width:33.5px;height:17.8px"></i>
<i class="bd" style="left:71.4px;top:49.2px;width:38.2px;height:17.8px"></i>
<i class="bd" style="left:108.6px;top:49.2px;width:38.1px;height:17.8px"></i>
<i class="bd" style="left:145.7px;top:49.2px;width:36.4px;height:17.8px"></i>
<i class="bd" style="left:181.1px;top:49.2px;width:33.5px;height:17.8px"></i>
<i class="bd" style="left:213.6px;top:49.2px;width:41.9px;height:17.8px"></i>
<i class="bd" style="left:254.5px;top:49.2px;width:39.5px;height:17.8px"></i>
<i class="bd" style="left:293.0px;top:49.2px;width:38.0px;height:17.8px"></i>
<i class="bd" style="left:330.0px;top:49.2px;width:38.0px;height:17.8px"></i>
<i class="bd" style="left:-0.5px;top:66.0px;width:33.5px;height:17.7px"></i>
<i class="bd" style="left:71.4px;top:66.0px;width:38.2px;height:17.7px"></i>
<i class="bd" style="left:108.6px;top:66.0px;width:38.1px;height:17.7px"></i>
<i class="bd" style="left:145.7px;top:66.0px;width:36.4px;height:17.7px"></i>
<i class="bd" style="left:181.1px;top:66.0px;width:33.5px;height:17.7px"></i>
<i class="bd" style="left:213.6px;top:66.0px;width:41.9px;height:17.7px"></i>
<i class="bd" style="left:254.5px;top:66.0px;width:39.5px;height:17.7px"></i>
<i class="bd" style="left:293.0px;top:66.0px;width:38.0px;height:17.7px"></i>
<i class="bd" style="left:330.0px;top:66.0px;width:38.0px;height:17.7px"></i>
<i class="bd" style="left:-0.5px;top:82.7px;width:33.5px;height:17.8px"></i>
<i class="bd" style="left:71.4px;top:82.7px;width:38.2px;height:17.8px"></i>
<i class="bd" style="left:108.6px;top:82.7px;width:38.1px;height:17.8px"></i>
<i class="bd" style="left:145.7px;top:82.7px;width:36.4px;height:17.8px"></i>
<i class="bd" style="left:181.1px;top:82.7px;width:33.5px;height:17.8px"></i>
<i class="bd" style="left:213.6px;top:82.7px;width:41.9px;height:17.8px"></i>
<i class="bd" style="left:254.5px;top:82.7px;width:39.5px;height:17.8px"></i>
<i class="bd" style="left:293.0px;top:82.7px;width:38.0px;height:17.8px"></i>
<i class="bd" style="left:330.0px;top:82.7px;width:38.0px;height:17.8px"></i>
<i class="bd" style="left:-0.5px;top:99.5px;width:33.5px;height:17.7px"></i>
<i class="bd" style="left:32.0px;top:99.5px;width:40.4px;height:17.7px"></i>
<i class="bd" style="left:71.4px;top:99.5px;width:38.2px;height:17.7px"></i>
<i class="bd" style="left:108.6px;top:99.5px;width:38.1px;height:17.7px"></i>
<i class="bd" style="left:145.7px;top:99.5px;width:36.4px;height:17.7px"></i>
<i class="bd" style="left:181.1px;top:99.5px;width:33.5px;height:17.7px"></i>
<i class="bd" style="left:213.6px;top:99.5px;width:41.9px;height:17.7px"></i>
<i class="bd" style="left:254.5px;top:99.5px;width:39.5px;height:17.7px"></i>
<i class="bd" style="left:293.0px;top:99.5px;width:38.0px;height:17.7px"></i>
<i class="bd" style="left:330.0px;top:99.5px;width:38.0px;height:17.7px"></i>
<i class="bd" style="left:-0.5px;top:116.2px;width:33.5px;height:17.8px"></i>
<i class="bd" style="left:32.0px;top:116.2px;width:40.4px;height:17.8px"></i>
<i class="bd" style="left:71.4px;top:116.2px;width:38.2px;height:17.8px"></i>
<i class="bd" style="left:108.6px;top:116.2px;width:38.1px;height:17.8px"></i>
<i class="bd" style="left:145.7px;top:116.2px;width:36.4px;height:17.8px"></i>
<i class="bd" style="left:181.1px;top:116.2px;width:33.5px;height:17.8px"></i>
<i class="bd" style="left:213.6px;top:116.2px;width:41.9px;height:17.8px"></i>
<i class="bd" style="left:254.5px;top:116.2px;width:39.5px;height:17.8px"></i>
<i class="bd" style="left:293.0px;top:116.2px;width:38.0px;height:17.8px"></i>
<i class="bd" style="left:330.0px;top:116.2px;width:38.0px;height:17.8px"></i>
<i class="bd" style="left:-0.5px;top:133.0px;width:33.5px;height:17.3px"></i>
<i class="bd" style="left:32.0px;top:133.0px;width:40.4px;height:17.3px"></i>
<i class="bd" style="left:71.4px;top:133.0px;width:38.2px;height:17.3px"></i>
<i class="bd" style="left:108.6px;top:133.0px;width:38.1px;height:17.3px"></i>
<i class="bd" style="left:145.7px;top:133.0px;width:36.4px;height:17.3px"></i>
<i class="bd" style="left:181.1px;top:133.0px;width:33.5px;height:17.3px"></i>
<i class="bd" style="left:213.6px;top:133.0px;width:41.9px;height:17.3px"></i>
<i class="bd" style="left:254.5px;top:133.0px;width:39.5px;height:17.3px"></i>
<i class="bd" style="left:293.0px;top:133.0px;width:38.0px;height:17.3px"></i>
<i class="bd" style="left:330.0px;top:133.0px;width:38.0px;height:17.3px"></i>
<b class="h" style="left:0.0px;top:-1.4px;width:214.1px">Ianuarie 2027</b>
<b class="h" style="left:214.1px;top:-1.4px;width:153.4px">Februarie 2027</b>
<b class="t l" style="left:0.0px;top:17.6px;width:71.9px">Săpt.</b>
<b class="t" style="left:109.1px;top:17.6px;width:37.1px">16</b>
<b class="t" style="left:146.2px;top:17.6px;width:35.4px">17</b>
<b class="t" style="left:181.6px;top:17.6px;width:32.5px">18</b>
<b class="t" style="left:214.1px;top:17.6px;width:40.9px">19</b>
<b class="t" style="left:255.0px;top:17.6px;width:38.5px">20</b>
<b class="t" style="left:293.5px;top:17.6px;width:37.0px">21</b>
<b class="t" style="left:330.5px;top:17.6px;width:37.0px">22</b>
<b class="t" style="left:0.0px;top:35.6px;width:32.5px">L</b>
<b class="t" style="left:71.9px;top:35.6px;width:37.2px">4</b>
<b class="t" style="left:109.1px;top:35.6px;width:37.1px">11</b>
<b class="t" style="left:146.2px;top:35.6px;width:35.4px">18</b>
<b class="t" style="left:181.6px;top:35.6px;width:32.5px">25</b>
<b class="t" style="left:214.1px;top:35.6px;width:40.9px">1</b>
<b class="t" style="left:255.0px;top:35.6px;width:38.5px">8</b>
<b class="t" style="left:293.5px;top:35.6px;width:37.0px">15</b>
<b class="t" style="left:330.5px;top:35.6px;width:37.0px">22</b>
<b class="t" style="left:0.0px;top:51.6px;width:32.5px">Ma</b>
<b class="t" style="left:71.9px;top:51.6px;width:37.2px">5</b>
<b class="t" style="left:109.1px;top:51.6px;width:37.1px">12</b>
<b class="t" style="left:146.2px;top:51.6px;width:35.4px">19</b>
<b class="t" style="left:181.6px;top:51.6px;width:32.5px">26</b>
<b class="t" style="left:214.1px;top:51.6px;width:40.9px">2</b>
<b class="t" style="left:255.0px;top:51.6px;width:38.5px">9</b>
<b class="t" style="left:293.5px;top:51.6px;width:37.0px">16</b>
<b class="t" style="left:330.5px;top:51.6px;width:37.0px">23</b>
<b class="t" style="left:0.0px;top:68.6px;width:32.5px">Mi</b>
<b class="t" style="left:71.9px;top:68.6px;width:37.2px">6</b>
<b class="t" style="left:109.1px;top:68.6px;width:37.1px">13</b>
<b class="t" style="left:146.2px;top:68.6px;width:35.4px">20</b>
<b class="t" style="left:181.6px;top:68.6px;width:32.5px">27</b>
<b class="t" style="left:214.1px;top:68.6px;width:40.9px">3</b>
<b class="t" style="left:255.0px;top:68.6px;width:38.5px">10</b>
<b class="t" style="left:293.5px;top:68.6px;width:37.0px">17</b>
<b class="t" style="left:330.5px;top:68.6px;width:37.0px">24</b>
<b class="t" style="left:0.0px;top:85.6px;width:32.5px">J</b>
<b class="t" style="left:71.9px;top:85.6px;width:37.2px">7</b>
<b class="t" style="left:109.1px;top:85.6px;width:37.1px">14</b>
<b class="t" style="left:146.2px;top:85.6px;width:35.4px">21</b>
<b class="t" style="left:181.6px;top:85.6px;width:32.5px">28</b>
<b class="t" style="left:214.1px;top:85.6px;width:40.9px">4</b>
<b class="t" style="left:255.0px;top:85.6px;width:38.5px">11</b>
<b class="t" style="left:293.5px;top:85.6px;width:37.0px">18</b>
<b class="t" style="left:330.5px;top:85.6px;width:37.0px">25</b>
<b class="t" style="left:0.0px;top:102.6px;width:32.5px">V</b>
<b class="t" style="left:32.5px;top:102.6px;width:39.4px">1</b>
<b class="t" style="left:71.9px;top:102.6px;width:37.2px">8</b>
<b class="t" style="left:109.1px;top:102.6px;width:37.1px">15</b>
<b class="t" style="left:146.2px;top:102.6px;width:35.4px">22</b>
<b class="t" style="left:181.6px;top:102.6px;width:32.5px">29</b>
<b class="t" style="left:214.1px;top:102.6px;width:40.9px">5</b>
<b class="t" style="left:255.0px;top:102.6px;width:38.5px">12</b>
<b class="t" style="left:293.5px;top:102.6px;width:37.0px">19</b>
<b class="t" style="left:330.5px;top:102.6px;width:37.0px">26</b>
<b class="t" style="left:0.0px;top:118.6px;width:32.5px">S</b>
<b class="t" style="left:32.5px;top:118.6px;width:39.4px">2</b>
<b class="t" style="left:71.9px;top:118.6px;width:37.2px">9</b>
<b class="t" style="left:109.1px;top:118.6px;width:37.1px">16</b>
<b class="t" style="left:146.2px;top:118.6px;width:35.4px">23</b>
<b class="t" style="left:181.6px;top:118.6px;width:32.5px">30</b>
<b class="t" style="left:214.1px;top:118.6px;width:40.9px">6</b>
<b class="t" style="left:255.0px;top:118.6px;width:38.5px">13</b>
<b class="t" style="left:293.5px;top:118.6px;width:37.0px">20</b>
<b class="t" style="left:330.5px;top:118.6px;width:37.0px">27</b>
<b class="t" style="left:0.0px;top:135.6px;width:32.5px">D</b>
<b class="t" style="left:32.5px;top:135.6px;width:39.4px">3</b>
<b class="t" style="left:71.9px;top:135.6px;width:37.2px">10</b>
<b class="t" style="left:109.1px;top:135.6px;width:37.1px">17</b>
<b class="t" style="left:146.2px;top:135.6px;width:35.4px">24</b>
<b class="t" style="left:181.6px;top:135.6px;width:32.5px">31</b>
<b class="t" style="left:214.1px;top:135.6px;width:40.9px">7</b>
<b class="t" style="left:255.0px;top:135.6px;width:38.5px">14</b>
<b class="t" style="left:293.5px;top:135.6px;width:37.0px">21</b>
<b class="t" style="left:330.5px;top:135.6px;width:37.0px">28</b>
<i class="ob"></i></div>
<div class="tb" style="left:465.3px;top:336.4px;width:365.7px;height:149.8px">
<i class="bg" style="left:0.0px;top:33.0px;width:37.9px;height:16.7px;background:#e1efd9"></i>
<i class="bg" style="left:37.9px;top:33.0px;width:35.5px;height:16.7px;background:#fdf0cb"></i>
<i class="bg" style="left:73.4px;top:33.0px;width:35.1px;height:16.7px;background:#fdf0cb"></i>
<i class="bg" style="left:108.5px;top:33.0px;width:37.7px;height:16.7px;background:#fdf0cb"></i>
<i class="bg" style="left:146.2px;top:33.0px;width:37.9px;height:16.7px;background:#fdf0cb"></i>
<i class="bg" style="left:215.1px;top:33.0px;width:35.1px;height:16.7px;background:#fdf0cb"></i>
<i class="bg" style="left:250.2px;top:33.0px;width:41.1px;height:16.7px;background:#fdf0cb"></i>
<i class="bg" style="left:291.3px;top:33.0px;width:39.8px;height:16.7px;background:#fdf0cb"></i>
<i class="bg" style="left:331.1px;top:33.0px;width:34.6px;height:16.7px;background:#a7cf8b"></i>
<i class="bg" style="left:0.0px;top:49.7px;width:37.9px;height:16.8px;background:#e1efd9"></i>
<i class="bg" style="left:37.9px;top:49.7px;width:35.5px;height:16.8px;background:#fdf0cb"></i>
<i class="bg" style="left:73.4px;top:49.7px;width:35.1px;height:16.8px;background:#fdf0cb"></i>
<i class="bg" style="left:108.5px;top:49.7px;width:37.7px;height:16.8px;background:#fdf0cb"></i>
<i class="bg" style="left:146.2px;top:49.7px;width:37.9px;height:16.8px;background:#fdf0cb"></i>
<i class="bg" style="left:215.1px;top:49.7px;width:35.1px;height:16.8px;background:#fdf0cb"></i>
<i class="bg" style="left:250.2px;top:49.7px;width:41.1px;height:16.8px;background:#fdf0cb"></i>
<i class="bg" style="left:291.3px;top:49.7px;width:39.8px;height:16.8px;background:#fdf0cb"></i>
<i class="bg" style="left:331.1px;top:49.7px;width:34.6px;height:16.8px;background:#a7cf8b"></i>
<i class="bg" style="left:0.0px;top:66.5px;width:37.9px;height:16.7px;background:#e1efd9"></i>
<i class="bg" style="left:37.9px;top:66.5px;width:35.5px;height:16.7px;background:#fdf0cb"></i>
<i class="bg" style="left:73.4px;top:66.5px;width:35.1px;height:16.7px;background:#fdf0cb"></i>
<i class="bg" style="left:108.5px;top:66.5px;width:37.7px;height:16.7px;background:#fdf0cb"></i>
<i class="bg" style="left:146.2px;top:66.5px;width:37.9px;height:16.7px;background:#fdf0cb"></i>
<i class="bg" style="left:215.1px;top:66.5px;width:35.1px;height:16.7px;background:#fdf0cb"></i>
<i class="bg" style="left:250.2px;top:66.5px;width:41.1px;height:16.7px;background:#fdf0cb"></i>
<i class="bg" style="left:291.3px;top:66.5px;width:39.8px;height:16.7px;background:#fdf0cb"></i>
<i class="bg" style="left:331.1px;top:66.5px;width:34.6px;height:16.7px;background:#a7cf8b"></i>
<i class="bg" style="left:0.0px;top:83.2px;width:37.9px;height:16.8px;background:#e1efd9"></i>
<i class="bg" style="left:37.9px;top:83.2px;width:35.5px;height:16.8px;background:#fdf0cb"></i>
<i class="bg" style="left:73.4px;top:83.2px;width:35.1px;height:16.8px;background:#fdf0cb"></i>
<i class="bg" style="left:108.5px;top:83.2px;width:37.7px;height:16.8px;background:#fdf0cb"></i>
<i class="bg" style="left:184.1px;top:83.2px;width:31.0px;height:16.8px;background:#fdf0cb"></i>
<i class="bg" style="left:215.1px;top:83.2px;width:35.1px;height:16.8px;background:#fdf0cb"></i>
<i class="bg" style="left:250.2px;top:83.2px;width:41.1px;height:16.8px;background:#fdf0cb"></i>
<i class="bg" style="left:291.3px;top:83.2px;width:39.8px;height:16.8px;background:#fdf0cb"></i>
<i class="bg" style="left:331.1px;top:83.2px;width:34.6px;height:16.8px;background:#a7cf8b"></i>
<i class="bg" style="left:0.0px;top:100.0px;width:37.9px;height:16.7px;background:#e1efd9"></i>
<i class="bg" style="left:37.9px;top:100.0px;width:35.5px;height:16.7px;background:#fdf0cb"></i>
<i class="bg" style="left:73.4px;top:100.0px;width:35.1px;height:16.7px;background:#fdf0cb"></i>
<i class="bg" style="left:108.5px;top:100.0px;width:37.7px;height:16.7px;background:#fdf0cb"></i>
<i class="bg" style="left:184.1px;top:100.0px;width:31.0px;height:16.7px;background:#fdf0cb"></i>
<i class="bg" style="left:215.1px;top:100.0px;width:35.1px;height:16.7px;background:#fdf0cb"></i>
<i class="bg" style="left:250.2px;top:100.0px;width:41.1px;height:16.7px;background:#fdf0cb"></i>
<i class="bg" style="left:291.3px;top:100.0px;width:39.8px;height:16.7px;background:#fdf0cb"></i>
<i class="bg" style="left:331.1px;top:100.0px;width:34.6px;height:16.7px;background:#5898d3"></i>
<i class="bg" style="left:108.5px;top:133.5px;width:37.7px;height:16.3px;background:#d8e0f1"></i>
<i class="bd" style="left:-0.5px;top:-0.5px;width:185.1px;height:17.2px"></i>
<i class="bd" style="left:183.6px;top:-0.5px;width:182.6px;height:17.2px"></i>
<i class="bd" style="left:-0.5px;top:15.7px;width:38.9px;height:17.8px"></i>
<i class="bd" style="left:37.4px;top:15.7px;width:36.5px;height:17.8px"></i>
<i class="bd" style="left:72.9px;top:15.7px;width:36.1px;height:17.8px"></i>
<i class="bd" style="left:108.0px;top:15.7px;width:38.7px;height:17.8px"></i>
<i class="bd" style="left:145.7px;top:15.7px;width:38.9px;height:17.8px"></i>
<i class="bd" style="left:183.6px;top:15.7px;width:32.0px;height:68.0px"></i>
<i class="bd" style="left:214.6px;top:15.7px;width:36.1px;height:17.8px"></i>
<i class="bd" style="left:249.7px;top:15.7px;width:42.1px;height:17.8px"></i>
<i class="bd" style="left:290.8px;top:15.7px;width:40.8px;height:17.8px"></i>
<i class="bd" style="left:330.6px;top:15.7px;width:35.6px;height:17.8px"></i>
<i class="bd" style="left:-0.5px;top:32.5px;width:38.9px;height:17.7px"></i>
<i class="bd" style="left:37.4px;top:32.5px;width:36.5px;height:17.7px"></i>
<i class="bd" style="left:72.9px;top:32.5px;width:36.1px;height:17.7px"></i>
<i class="bd" style="left:108.0px;top:32.5px;width:38.7px;height:17.7px"></i>
<i class="bd" style="left:145.7px;top:32.5px;width:38.9px;height:17.7px"></i>
<i class="bd" style="left:214.6px;top:32.5px;width:36.1px;height:17.7px"></i>
<i class="bd" style="left:249.7px;top:32.5px;width:42.1px;height:17.7px"></i>
<i class="bd" style="left:290.8px;top:32.5px;width:40.8px;height:17.7px"></i>
<i class="bd" style="left:330.6px;top:32.5px;width:35.6px;height:17.7px"></i>
<i class="bd" style="left:-0.5px;top:49.2px;width:38.9px;height:17.8px"></i>
<i class="bd" style="left:37.4px;top:49.2px;width:36.5px;height:17.8px"></i>
<i class="bd" style="left:72.9px;top:49.2px;width:36.1px;height:17.8px"></i>
<i class="bd" style="left:108.0px;top:49.2px;width:38.7px;height:17.8px"></i>
<i class="bd" style="left:145.7px;top:49.2px;width:38.9px;height:17.8px"></i>
<i class="bd" style="left:214.6px;top:49.2px;width:36.1px;height:17.8px"></i>
<i class="bd" style="left:249.7px;top:49.2px;width:42.1px;height:17.8px"></i>
<i class="bd" style="left:290.8px;top:49.2px;width:40.8px;height:17.8px"></i>
<i class="bd" style="left:330.6px;top:49.2px;width:35.6px;height:17.8px"></i>
<i class="bd" style="left:-0.5px;top:66.0px;width:38.9px;height:17.7px"></i>
<i class="bd" style="left:37.4px;top:66.0px;width:36.5px;height:17.7px"></i>
<i class="bd" style="left:72.9px;top:66.0px;width:36.1px;height:17.7px"></i>
<i class="bd" style="left:108.0px;top:66.0px;width:38.7px;height:17.7px"></i>
<i class="bd" style="left:145.7px;top:66.0px;width:38.9px;height:17.7px"></i>
<i class="bd" style="left:214.6px;top:66.0px;width:36.1px;height:17.7px"></i>
<i class="bd" style="left:249.7px;top:66.0px;width:42.1px;height:17.7px"></i>
<i class="bd" style="left:290.8px;top:66.0px;width:40.8px;height:17.7px"></i>
<i class="bd" style="left:330.6px;top:66.0px;width:35.6px;height:17.7px"></i>
<i class="bd" style="left:-0.5px;top:82.7px;width:38.9px;height:17.8px"></i>
<i class="bd" style="left:37.4px;top:82.7px;width:36.5px;height:17.8px"></i>
<i class="bd" style="left:72.9px;top:82.7px;width:36.1px;height:17.8px"></i>
<i class="bd" style="left:108.0px;top:82.7px;width:38.7px;height:17.8px"></i>
<i class="bd" style="left:145.7px;top:82.7px;width:38.9px;height:67.6px"></i>
<i class="bd" style="left:183.6px;top:82.7px;width:32.0px;height:17.8px"></i>
<i class="bd" style="left:214.6px;top:82.7px;width:36.1px;height:17.8px"></i>
<i class="bd" style="left:249.7px;top:82.7px;width:42.1px;height:17.8px"></i>
<i class="bd" style="left:290.8px;top:82.7px;width:40.8px;height:17.8px"></i>
<i class="bd" style="left:330.6px;top:82.7px;width:35.6px;height:17.8px"></i>
<i class="bd" style="left:-0.5px;top:99.5px;width:38.9px;height:17.7px"></i>
<i class="bd" style="left:37.4px;top:99.5px;width:36.5px;height:17.7px"></i>
<i class="bd" style="left:72.9px;top:99.5px;width:36.1px;height:17.7px"></i>
<i class="bd" style="left:108.0px;top:99.5px;width:38.7px;height:17.7px"></i>
<i class="bd" style="left:183.6px;top:99.5px;width:32.0px;height:17.7px"></i>
<i class="bd" style="left:214.6px;top:99.5px;width:36.1px;height:17.7px"></i>
<i class="bd" style="left:249.7px;top:99.5px;width:42.1px;height:17.7px"></i>
<i class="bd" style="left:290.8px;top:99.5px;width:40.8px;height:17.7px"></i>
<i class="bd" style="left:330.6px;top:99.5px;width:35.6px;height:17.7px"></i>
<i class="bd" style="left:-0.5px;top:116.2px;width:38.9px;height:17.8px"></i>
<i class="bd" style="left:37.4px;top:116.2px;width:36.5px;height:17.8px"></i>
<i class="bd" style="left:72.9px;top:116.2px;width:36.1px;height:17.8px"></i>
<i class="bd" style="left:108.0px;top:116.2px;width:38.7px;height:17.8px"></i>
<i class="bd" style="left:183.6px;top:116.2px;width:32.0px;height:17.8px"></i>
<i class="bd" style="left:214.6px;top:116.2px;width:36.1px;height:17.8px"></i>
<i class="bd" style="left:249.7px;top:116.2px;width:42.1px;height:17.8px"></i>
<i class="bd" style="left:290.8px;top:116.2px;width:40.8px;height:17.8px"></i>
<i class="bd" style="left:330.6px;top:116.2px;width:35.6px;height:34.1px"></i>
<i class="bd" style="left:-0.5px;top:133.0px;width:38.9px;height:17.3px"></i>
<i class="bd" style="left:37.4px;top:133.0px;width:36.5px;height:17.3px"></i>
<i class="bd" style="left:72.9px;top:133.0px;width:36.1px;height:17.3px"></i>
<i class="bd" style="left:108.0px;top:133.0px;width:38.7px;height:17.3px"></i>
<i class="bd" style="left:183.6px;top:133.0px;width:32.0px;height:17.3px"></i>
<i class="bd" style="left:214.6px;top:133.0px;width:36.1px;height:17.3px"></i>
<i class="bd" style="left:249.7px;top:133.0px;width:42.1px;height:17.3px"></i>
<i class="bd" style="left:290.8px;top:133.0px;width:40.8px;height:17.3px"></i>
<b class="h" style="left:0.0px;top:-1.4px;width:184.1px">Martie 2027</b>
<b class="h" style="left:184.1px;top:-1.4px;width:181.6px">Aprilie 2027</b>
<b class="t" style="left:37.9px;top:17.6px;width:35.5px">23</b>
<b class="t" style="left:73.4px;top:17.6px;width:35.1px">24</b>
<b class="t" style="left:108.5px;top:17.6px;width:37.7px">25</b>
<b class="t" style="left:146.2px;top:17.6px;width:37.9px">26</b>
<b class="t" style="left:215.1px;top:17.6px;width:35.1px">27</b>
<b class="t" style="left:250.2px;top:17.6px;width:41.1px">28</b>
<b class="t" style="left:291.3px;top:17.6px;width:39.8px">29</b>
<b class="t" style="left:0.0px;top:35.6px;width:37.9px">1</b>
<b class="t" style="left:37.9px;top:35.6px;width:35.5px">8</b>
<b class="t" style="left:73.4px;top:35.6px;width:35.1px">15</b>
<b class="t" style="left:108.5px;top:35.6px;width:37.7px">22</b>
<b class="t" style="left:146.2px;top:35.6px;width:37.9px">29</b>
<b class="t" style="left:215.1px;top:35.6px;width:35.1px">5</b>
<b class="t" style="left:250.2px;top:35.6px;width:41.1px">12</b>
<b class="t" style="left:291.3px;top:35.6px;width:39.8px">19</b>
<b class="t" style="left:331.1px;top:35.6px;width:34.6px">26</b>
<b class="t" style="left:0.0px;top:51.6px;width:37.9px">2</b>
<b class="t" style="left:37.9px;top:51.6px;width:35.5px">9</b>
<b class="t" style="left:73.4px;top:51.6px;width:35.1px">16</b>
<b class="t" style="left:108.5px;top:51.6px;width:37.7px">23</b>
<b class="t" style="left:146.2px;top:51.6px;width:37.9px">30</b>
<b class="t" style="left:215.1px;top:51.6px;width:35.1px">6</b>
<b class="t" style="left:250.2px;top:51.6px;width:41.1px">13</b>
<b class="t" style="left:291.3px;top:51.6px;width:39.8px">20</b>
<b class="t" style="left:331.1px;top:51.6px;width:34.6px">27</b>
<b class="t" style="left:0.0px;top:68.6px;width:37.9px">3</b>
<b class="t" style="left:37.9px;top:68.6px;width:35.5px">10</b>
<b class="t" style="left:73.4px;top:68.6px;width:35.1px">17</b>
<b class="t" style="left:108.5px;top:68.6px;width:37.7px">24</b>
<b class="t" style="left:146.2px;top:68.6px;width:37.9px">31</b>
<b class="t" style="left:215.1px;top:68.6px;width:35.1px">7</b>
<b class="t" style="left:250.2px;top:68.6px;width:41.1px">14</b>
<b class="t" style="left:291.3px;top:68.6px;width:39.8px">21</b>
<b class="t" style="left:331.1px;top:68.6px;width:34.6px">28</b>
<b class="t" style="left:0.0px;top:85.6px;width:37.9px">4</b>
<b class="t" style="left:37.9px;top:85.6px;width:35.5px">11</b>
<b class="t" style="left:73.4px;top:85.6px;width:35.1px">18</b>
<b class="t" style="left:108.5px;top:85.6px;width:37.7px">25</b>
<b class="t" style="left:184.1px;top:85.6px;width:31.0px">1</b>
<b class="t" style="left:215.1px;top:85.6px;width:35.1px">8</b>
<b class="t" style="left:250.2px;top:85.6px;width:41.1px">15</b>
<b class="t" style="left:291.3px;top:85.6px;width:39.8px">22</b>
<b class="t" style="left:331.1px;top:85.6px;width:34.6px">29</b>
<b class="t" style="left:0.0px;top:102.6px;width:37.9px">5</b>
<b class="t" style="left:37.9px;top:102.6px;width:35.5px">12</b>
<b class="t" style="left:73.4px;top:102.6px;width:35.1px">19</b>
<b class="t" style="left:108.5px;top:102.6px;width:37.7px">26</b>
<b class="t" style="left:184.1px;top:102.6px;width:31.0px">2</b>
<b class="t" style="left:215.1px;top:102.6px;width:35.1px">9</b>
<b class="t" style="left:250.2px;top:102.6px;width:41.1px">16</b>
<b class="t" style="left:291.3px;top:102.6px;width:39.8px">23</b>
<b class="t" style="left:331.1px;top:102.6px;width:34.6px">30</b>
<b class="t" style="left:0.0px;top:118.6px;width:37.9px">6</b>
<b class="t" style="left:37.9px;top:118.6px;width:35.5px">13</b>
<b class="t" style="left:73.4px;top:118.6px;width:35.1px">20</b>
<b class="t" style="left:108.5px;top:118.6px;width:37.7px">27</b>
<b class="t" style="left:184.1px;top:118.6px;width:31.0px">3</b>
<b class="t" style="left:215.1px;top:118.6px;width:35.1px">10</b>
<b class="t" style="left:250.2px;top:118.6px;width:41.1px">17</b>
<b class="t" style="left:291.3px;top:118.6px;width:39.8px">24</b>
<b class="t" style="left:0.0px;top:135.6px;width:37.9px">7</b>
<b class="t" style="left:37.9px;top:135.6px;width:35.5px">14</b>
<b class="t" style="left:73.4px;top:135.6px;width:35.1px">21</b>
<b class="t" style="left:108.5px;top:135.6px;width:37.7px">28**</b>
<b class="t" style="left:184.1px;top:135.6px;width:31.0px">4</b>
<b class="t" style="left:215.1px;top:135.6px;width:35.1px">11</b>
<b class="t" style="left:250.2px;top:135.6px;width:41.1px">18</b>
<b class="t" style="left:291.3px;top:135.6px;width:39.8px">25</b>
<i class="ob"></i></div>
<div class="tb" style="left:69.5px;top:500.7px;width:367.5px;height:150.2px">
<i class="bg" style="left:71.9px;top:33.5px;width:37.2px;height:16.6px;background:#5898d3"></i>
<i class="bg" style="left:109.1px;top:33.5px;width:37.1px;height:16.6px;background:#fdf0cb"></i>
<i class="bg" style="left:146.2px;top:33.5px;width:35.4px;height:16.6px;background:#fdf0cb"></i>
<i class="bg" style="left:181.6px;top:33.5px;width:32.5px;height:16.6px;background:#fdf0cb"></i>
<i class="bg" style="left:214.1px;top:33.5px;width:40.9px;height:16.6px;background:#fdf0cb"></i>
<i class="bg" style="left:293.5px;top:33.5px;width:37.0px;height:16.6px;background:#fdf0cb"></i>
<i class="bg" style="left:330.5px;top:33.5px;width:37.0px;height:16.6px;background:#fdf0cb"></i>
<i class="bg" style="left:71.9px;top:50.1px;width:37.2px;height:16.7px;background:#5898d3"></i>
<i class="bg" style="left:109.1px;top:50.1px;width:37.1px;height:16.7px;background:#fdf0cb"></i>
<i class="bg" style="left:146.2px;top:50.1px;width:35.4px;height:16.7px;background:#fdf0cb"></i>
<i class="bg" style="left:181.6px;top:50.1px;width:32.5px;height:16.7px;background:#fdf0cb"></i>
<i class="bg" style="left:255.0px;top:50.1px;width:38.5px;height:16.7px;background:#5898d3"></i>
<i class="bg" style="left:293.5px;top:50.1px;width:37.0px;height:16.7px;background:#fdf0cb"></i>
<i class="bg" style="left:330.5px;top:50.1px;width:37.0px;height:16.7px;background:#fdf0cb"></i>
<i class="bg" style="left:71.9px;top:66.8px;width:37.2px;height:16.8px;background:#fdf0cb"></i>
<i class="bg" style="left:109.1px;top:66.8px;width:37.1px;height:16.8px;background:#fdf0cb"></i>
<i class="bg" style="left:146.2px;top:66.8px;width:35.4px;height:16.8px;background:#fdf0cb"></i>
<i class="bg" style="left:181.6px;top:66.8px;width:32.5px;height:16.8px;background:#fdf0cb"></i>
<i class="bg" style="left:255.0px;top:66.8px;width:38.5px;height:16.8px;background:#fdf0cb"></i>
<i class="bg" style="left:293.5px;top:66.8px;width:37.0px;height:16.8px;background:#fdf0cb"></i>
<i class="bg" style="left:330.5px;top:66.8px;width:37.0px;height:16.8px;background:#fdf0cb"></i>
<i class="bg" style="left:71.9px;top:83.6px;width:37.2px;height:16.5px;background:#fdf0cb"></i>
<i class="bg" style="left:109.1px;top:83.6px;width:37.1px;height:16.5px;background:#fdf0cb"></i>
<i class="bg" style="left:146.2px;top:83.6px;width:35.4px;height:16.5px;background:#fdf0cb"></i>
<i class="bg" style="left:181.6px;top:83.6px;width:32.5px;height:16.5px;background:#fdf0cb"></i>
<i class="bg" style="left:255.0px;top:83.6px;width:38.5px;height:16.5px;background:#fdf0cb"></i>
<i class="bg" style="left:293.5px;top:83.6px;width:37.0px;height:16.5px;background:#fdf0cb"></i>
<i class="bg" style="left:330.5px;top:83.6px;width:37.0px;height:16.5px;background:#fdf0cb"></i>
<i class="bg" style="left:71.9px;top:100.1px;width:37.2px;height:16.6px;background:#fdf0cb"></i>
<i class="bg" style="left:109.1px;top:100.1px;width:37.1px;height:16.6px;background:#fdf0cb"></i>
<i class="bg" style="left:146.2px;top:100.1px;width:35.4px;height:16.6px;background:#fdf0cb"></i>
<i class="bg" style="left:181.6px;top:100.1px;width:32.5px;height:16.6px;background:#fdf0cb"></i>
<i class="bg" style="left:255.0px;top:100.1px;width:38.5px;height:16.6px;background:#bf8f00"></i>
<i class="bg" style="left:293.5px;top:100.1px;width:37.0px;height:16.6px;background:#f4b183"></i>
<i class="bg" style="left:330.5px;top:100.1px;width:37.0px;height:16.6px;background:#fdf0cb"></i>
<i class="bg" style="left:32.5px;top:133.6px;width:39.4px;height:16.6px;background:#d8e0f1"></i>
<i class="bd" style="left:-0.5px;top:-0.5px;width:256.0px;height:17.6px"></i>
<i class="bd" style="left:254.5px;top:-0.5px;width:113.5px;height:17.6px"></i>
<i class="bd" style="left:-0.5px;top:16.1px;width:72.9px;height:17.9px"></i>
<i class="bd" style="left:71.4px;top:16.1px;width:38.2px;height:17.9px"></i>
<i class="bd" style="left:108.6px;top:16.1px;width:38.1px;height:17.9px"></i>
<i class="bd" style="left:145.7px;top:16.1px;width:36.4px;height:17.9px"></i>
<i class="bd" style="left:181.1px;top:16.1px;width:33.5px;height:17.9px"></i>
<i class="bd" style="left:213.6px;top:16.1px;width:41.9px;height:17.9px"></i>
<i class="bd" style="left:254.5px;top:16.1px;width:39.5px;height:34.5px"></i>
<i class="bd" style="left:293.0px;top:16.1px;width:38.0px;height:17.9px"></i>
<i class="bd" style="left:330.0px;top:16.1px;width:38.0px;height:17.9px"></i>
<i class="bd" style="left:-0.5px;top:33.0px;width:33.5px;height:17.6px"></i>
<i class="bd" style="left:32.0px;top:33.0px;width:40.4px;height:84.2px"></i>
<i class="bd" style="left:71.4px;top:33.0px;width:38.2px;height:17.6px"></i>
<i class="bd" style="left:108.6px;top:33.0px;width:38.1px;height:17.6px"></i>
<i class="bd" style="left:145.7px;top:33.0px;width:36.4px;height:17.6px"></i>
<i class="bd" style="left:181.1px;top:33.0px;width:33.5px;height:17.6px"></i>
<i class="bd" style="left:213.6px;top:33.0px;width:41.9px;height:17.6px"></i>
<i class="bd" style="left:293.0px;top:33.0px;width:38.0px;height:17.6px"></i>
<i class="bd" style="left:330.0px;top:33.0px;width:38.0px;height:17.6px"></i>
<i class="bd" style="left:-0.5px;top:49.6px;width:33.5px;height:17.7px"></i>
<i class="bd" style="left:71.4px;top:49.6px;width:38.2px;height:17.7px"></i>
<i class="bd" style="left:108.6px;top:49.6px;width:38.1px;height:17.7px"></i>
<i class="bd" style="left:145.7px;top:49.6px;width:36.4px;height:17.7px"></i>
<i class="bd" style="left:181.1px;top:49.6px;width:33.5px;height:17.7px"></i>
<i class="bd" style="left:213.6px;top:49.6px;width:41.9px;height:101.1px"></i>
<i class="bd" style="left:254.5px;top:49.6px;width:39.5px;height:17.7px"></i>
<i class="bd" style="left:293.0px;top:49.6px;width:38.0px;height:17.7px"></i>
<i class="bd" style="left:330.0px;top:49.6px;width:38.0px;height:17.7px"></i>
<i class="bd" style="left:-0.5px;top:66.3px;width:33.5px;height:17.8px"></i>
<i class="bd" style="left:71.4px;top:66.3px;width:38.2px;height:17.8px"></i>
<i class="bd" style="left:108.6px;top:66.3px;width:38.1px;height:17.8px"></i>
<i class="bd" style="left:145.7px;top:66.3px;width:36.4px;height:17.8px"></i>
<i class="bd" style="left:181.1px;top:66.3px;width:33.5px;height:17.8px"></i>
<i class="bd" style="left:254.5px;top:66.3px;width:39.5px;height:17.8px"></i>
<i class="bd" style="left:293.0px;top:66.3px;width:38.0px;height:17.8px"></i>
<i class="bd" style="left:330.0px;top:66.3px;width:38.0px;height:17.8px"></i>
<i class="bd" style="left:-0.5px;top:83.1px;width:33.5px;height:17.5px"></i>
<i class="bd" style="left:71.4px;top:83.1px;width:38.2px;height:17.5px"></i>
<i class="bd" style="left:108.6px;top:83.1px;width:38.1px;height:17.5px"></i>
<i class="bd" style="left:145.7px;top:83.1px;width:36.4px;height:17.5px"></i>
<i class="bd" style="left:181.1px;top:83.1px;width:33.5px;height:17.5px"></i>
<i class="bd" style="left:254.5px;top:83.1px;width:39.5px;height:17.5px"></i>
<i class="bd" style="left:293.0px;top:83.1px;width:38.0px;height:17.5px"></i>
<i class="bd" style="left:330.0px;top:83.1px;width:38.0px;height:17.5px"></i>
<i class="bd" style="left:-0.5px;top:99.6px;width:33.5px;height:17.6px"></i>
<i class="bd" style="left:71.4px;top:99.6px;width:38.2px;height:17.6px"></i>
<i class="bd" style="left:108.6px;top:99.6px;width:38.1px;height:17.6px"></i>
<i class="bd" style="left:145.7px;top:99.6px;width:36.4px;height:17.6px"></i>
<i class="bd" style="left:181.1px;top:99.6px;width:33.5px;height:17.6px"></i>
<i class="bd" style="left:254.5px;top:99.6px;width:39.5px;height:17.6px"></i>
<i class="bd" style="left:293.0px;top:99.6px;width:38.0px;height:17.6px"></i>
<i class="bd" style="left:330.0px;top:99.6px;width:38.0px;height:17.6px"></i>
<i class="bd" style="left:-0.5px;top:116.2px;width:33.5px;height:17.9px"></i>
<i class="bd" style="left:32.0px;top:116.2px;width:40.4px;height:17.9px"></i>
<i class="bd" style="left:71.4px;top:116.2px;width:38.2px;height:17.9px"></i>
<i class="bd" style="left:108.6px;top:116.2px;width:38.1px;height:17.9px"></i>
<i class="bd" style="left:145.7px;top:116.2px;width:36.4px;height:17.9px"></i>
<i class="bd" style="left:181.1px;top:116.2px;width:33.5px;height:17.9px"></i>
<i class="bd" style="left:254.5px;top:116.2px;width:39.5px;height:17.9px"></i>
<i class="bd" style="left:293.0px;top:116.2px;width:38.0px;height:17.9px"></i>
<i class="bd" style="left:330.0px;top:116.2px;width:38.0px;height:17.9px"></i>
<i class="bd" style="left:-0.5px;top:133.1px;width:33.5px;height:17.6px"></i>
<i class="bd" style="left:32.0px;top:133.1px;width:40.4px;height:17.6px"></i>
<i class="bd" style="left:71.4px;top:133.1px;width:38.2px;height:17.6px"></i>
<i class="bd" style="left:108.6px;top:133.1px;width:38.1px;height:17.6px"></i>
<i class="bd" style="left:145.7px;top:133.1px;width:36.4px;height:17.6px"></i>
<i class="bd" style="left:181.1px;top:133.1px;width:33.5px;height:17.6px"></i>
<i class="bd" style="left:254.5px;top:133.1px;width:39.5px;height:17.6px"></i>
<i class="bd" style="left:293.0px;top:133.1px;width:38.0px;height:17.6px"></i>
<i class="bd" style="left:330.0px;top:133.1px;width:38.0px;height:17.6px"></i>
<b class="h" style="left:0.0px;top:-0.7px;width:255.0px">Mai 2027</b>
<b class="h" style="left:255.0px;top:-0.7px;width:112.5px">Iunie 2027</b>
<b class="t l" style="left:0.0px;top:18.3px;width:71.9px">Săpt.</b>
<b class="t" style="left:71.9px;top:18.3px;width:37.2px">30</b>
<b class="t" style="left:109.1px;top:18.3px;width:37.1px">31</b>
<b class="t" style="left:146.2px;top:18.3px;width:35.4px">32</b>
<b class="t" style="left:181.6px;top:18.3px;width:32.5px">33</b>
<b class="t" style="left:214.1px;top:18.3px;width:40.9px">34</b>
<b class="t" style="left:293.5px;top:18.3px;width:37.0px">35</b>
<b class="t" style="left:330.5px;top:18.3px;width:37.0px">36</b>
<b class="t" style="left:0.0px;top:35.3px;width:32.5px">L</b>
<b class="t" style="left:71.9px;top:35.3px;width:37.2px">3</b>
<b class="t" style="left:109.1px;top:35.3px;width:37.1px">10</b>
<b class="t" style="left:146.2px;top:35.3px;width:35.4px">17</b>
<b class="t" style="left:181.6px;top:35.3px;width:32.5px">24</b>
<b class="t" style="left:214.1px;top:35.3px;width:40.9px">31</b>
<b class="t" style="left:293.5px;top:35.3px;width:37.0px">7</b>
<b class="t" style="left:330.5px;top:35.3px;width:37.0px">14</b>
<b class="t" style="left:0.0px;top:52.3px;width:32.5px">Ma</b>
<b class="t" style="left:71.9px;top:52.3px;width:37.2px">4</b>
<b class="t" style="left:109.1px;top:52.3px;width:37.1px">11</b>
<b class="t" style="left:146.2px;top:52.3px;width:35.4px">18</b>
<b class="t" style="left:181.6px;top:52.3px;width:32.5px">25</b>
<b class="t" style="left:255.0px;top:52.3px;width:38.5px">1</b>
<b class="t" style="left:293.5px;top:52.3px;width:37.0px">8</b>
<b class="t" style="left:330.5px;top:52.3px;width:37.0px">15</b>
<b class="t" style="left:0.0px;top:69.3px;width:32.5px">Mi</b>
<b class="t" style="left:71.9px;top:69.3px;width:37.2px">5</b>
<b class="t" style="left:109.1px;top:69.3px;width:37.1px">12</b>
<b class="t" style="left:146.2px;top:69.3px;width:35.4px">19</b>
<b class="t" style="left:181.6px;top:69.3px;width:32.5px">26</b>
<b class="t" style="left:255.0px;top:69.3px;width:38.5px">2</b>
<b class="t" style="left:293.5px;top:69.3px;width:37.0px">9</b>
<b class="t" style="left:330.5px;top:69.3px;width:37.0px">16</b>
<b class="t" style="left:0.0px;top:85.3px;width:32.5px">J</b>
<b class="t" style="left:71.9px;top:85.3px;width:37.2px">6</b>
<b class="t" style="left:109.1px;top:85.3px;width:37.1px">13</b>
<b class="t" style="left:146.2px;top:85.3px;width:35.4px">20</b>
<b class="t" style="left:181.6px;top:85.3px;width:32.5px">27</b>
<b class="t" style="left:255.0px;top:85.3px;width:38.5px">3</b>
<b class="t" style="left:293.5px;top:85.3px;width:37.0px">10</b>
<b class="t" style="left:330.5px;top:85.3px;width:37.0px">17</b>
<b class="t" style="left:0.0px;top:102.3px;width:32.5px">V</b>
<b class="t" style="left:71.9px;top:102.3px;width:37.2px">7</b>
<b class="t" style="left:109.1px;top:102.3px;width:37.1px">14</b>
<b class="t" style="left:146.2px;top:102.3px;width:35.4px">21</b>
<b class="t" style="left:181.6px;top:102.3px;width:32.5px">28</b>
<b class="t" style="left:255.0px;top:102.3px;width:38.5px">4</b>
<b class="t" style="left:293.5px;top:102.3px;width:37.0px">11</b>
<b class="t" style="left:330.5px;top:102.3px;width:37.0px">18</b>
<b class="t" style="left:0.0px;top:119.3px;width:32.5px">S</b>
<b class="t" style="left:32.5px;top:119.3px;width:39.4px">1</b>
<b class="t" style="left:71.9px;top:119.3px;width:37.2px">8</b>
<b class="t" style="left:109.1px;top:119.3px;width:37.1px">15</b>
<b class="t" style="left:146.2px;top:119.3px;width:35.4px">22</b>
<b class="t" style="left:181.6px;top:119.3px;width:32.5px">29</b>
<b class="t" style="left:255.0px;top:119.3px;width:38.5px">5</b>
<b class="t" style="left:293.5px;top:119.3px;width:37.0px">12</b>
<b class="t" style="left:330.5px;top:119.3px;width:37.0px">19</b>
<b class="t" style="left:0.0px;top:135.3px;width:32.5px">D</b>
<b class="t" style="left:32.5px;top:135.3px;width:39.4px">2***</b>
<b class="t" style="left:71.9px;top:135.3px;width:37.2px">9</b>
<b class="t" style="left:109.1px;top:135.3px;width:37.1px">16</b>
<b class="t" style="left:146.2px;top:135.3px;width:35.4px">23</b>
<b class="t" style="left:181.6px;top:135.3px;width:32.5px">30</b>
<b class="t" style="left:255.0px;top:135.3px;width:38.5px">6</b>
<b class="t" style="left:293.5px;top:135.3px;width:37.0px">13</b>
<b class="t" style="left:330.5px;top:135.3px;width:37.0px">20</b>
<i class="ob"></i></div>
<i class="sw" style="top:501.3px;height:15.3px;background:#fff2cc"></i>
<span class="lt" style="top:503px">cursuri</span>
<i class="sw" style="top:516.6px;height:17.4px;background:#92d050"></i>
<span class="lt" style="top:519px">vacanță</span>
<i class="sw" style="top:534.0px;height:16.1px;background:#c6e0b4"></i>
<span class="lt" style="top:536px">vacanță - o săptămână, la decizia ISJ/ISMB</span>
<i class="sw" style="top:550.1px;height:34.4px;background:#bf8f00"></i>
<span class="lt" style="top:554px">ultima zi de cursuri - clasele a XII-a zi, a XIII-a seral și</span>
<span class="lt" style="top:569px">frecvență redusă</span>
<i class="sw" style="top:584.5px;height:16.3px;background:#f4b084"></i>
<span class="lt" style="top:586px">ultima zi de cursuri - clasa a VIII-a</span>
<i class="sw" style="top:600.8px;height:16.3px;background:#5b9bd5"></i>
<span class="lt" style="top:600px">sărbători legale/zile nelucrătoare</span>
<span class="ast" style="top:620px">*</span><span class="lt" style="top:620px">Ziua educatiei</span>
<span class="ast" style="top:636px">**</span><span class="lt" style="top:636px">Pastele catolic</span>
<span class="ast" style="top:653px">***</span><span class="lt" style="top:653px">Pastele ortodox</span>
<svg id="wm" width="940" height="788" viewBox="0 0 940 788"><g opacity="0.10"><text x="0" y="0" transform="translate(158 637) rotate(-41.2)" font-family="Liberation Sans" font-weight="bold" font-size="140" fill="rgb(80,115,170)" stroke="rgb(80,115,170)" stroke-width="3" stroke-linejoin="round">PROIECT</text></g></svg>
<svg id="logo" viewBox="-22 -22 44 44"><circle r="21" fill="#2b55a1"/><circle r="20.1" fill="none" stroke="#fff" stroke-width="0.35"/><circle r="12.8" fill="none" stroke="#fff" stroke-width="0.5"/><path id="lgt" d="M-14,0 A14,14 0 0 1 14,0" fill="none"/><path id="lgb" d="M-19.3,0 A19.3,19.3 0 0 0 19.3,0" fill="none"/><text font-family="Liberation Serif" font-size="6.3" fill="#fff"><textPath href="#lgt" startOffset="50%" text-anchor="middle" textLength="35" lengthAdjust="spacingAndGlyphs">GUVERNUL</textPath></text><text font-family="Liberation Serif" font-size="6.3" fill="#fff"><textPath href="#lgb" startOffset="50%" text-anchor="middle" textLength="46" lengthAdjust="spacingAndGlyphs">ROMÂNIEI</textPath></text><circle cx="-16.4" cy="0" r="0.75" fill="#fff"/><circle cx="16.4" cy="0" r="0.75" fill="#fff"/><path fill="#fff" d="M-2.6,-5.2 L-5.2,-6.4 L-8.6,-8.2 L-8.9,-2 L-8.2,2.6 L-5.6,5.6 L-3,5 Z M2.6,-5.2 L5.2,-6.4 L8.6,-8.2 L8.9,-2 L8.2,2.6 L5.6,5.6 L3,5 Z"/><path fill="#fff" d="M-3.4,-5.4 L3.4,-5.4 L3.4,3 Q3.4,5.6 0,6.6 Q-3.4,5.6 -3.4,3 Z"/><path fill="#fff" d="M-2.2,5 L2.2,5 L3.4,9.2 L0,10.6 L-3.4,9.2 Z"/><circle cx="0" cy="-7.2" r="1.9" fill="#fff"/><path stroke="#fff" stroke-width="0.9" d="M0,-12 L0,-8.6 M-1.3,-10.9 L1.3,-10.9 M-1.1,-9.7 L1.1,-9.7"/><path stroke="#2b55a1" stroke-width="0.45" fill="none" d="M0,-5.4 L0,6.4 M-3.4,0.4 L3.4,0.4 M-7.6,-5 L-7.8,2 M-6.2,-4.4 L-6.4,3.6 M-4.6,-5.4 L-4.6,4.6 M7.6,-5 L7.8,2 M6.2,-4.4 L6.4,3.6 M4.6,-5.4 L4.6,4.6 M-1.2,6 L-1.6,9.6 M1.2,6 L1.6,9.6"/></svg>
<div id="min">MINISTERUL EDUCAȚIEI<br>ȘI CERCETĂRII</div>
<div id="line"></div>
<div id="edu">edu.ro</div>
</body></html>
